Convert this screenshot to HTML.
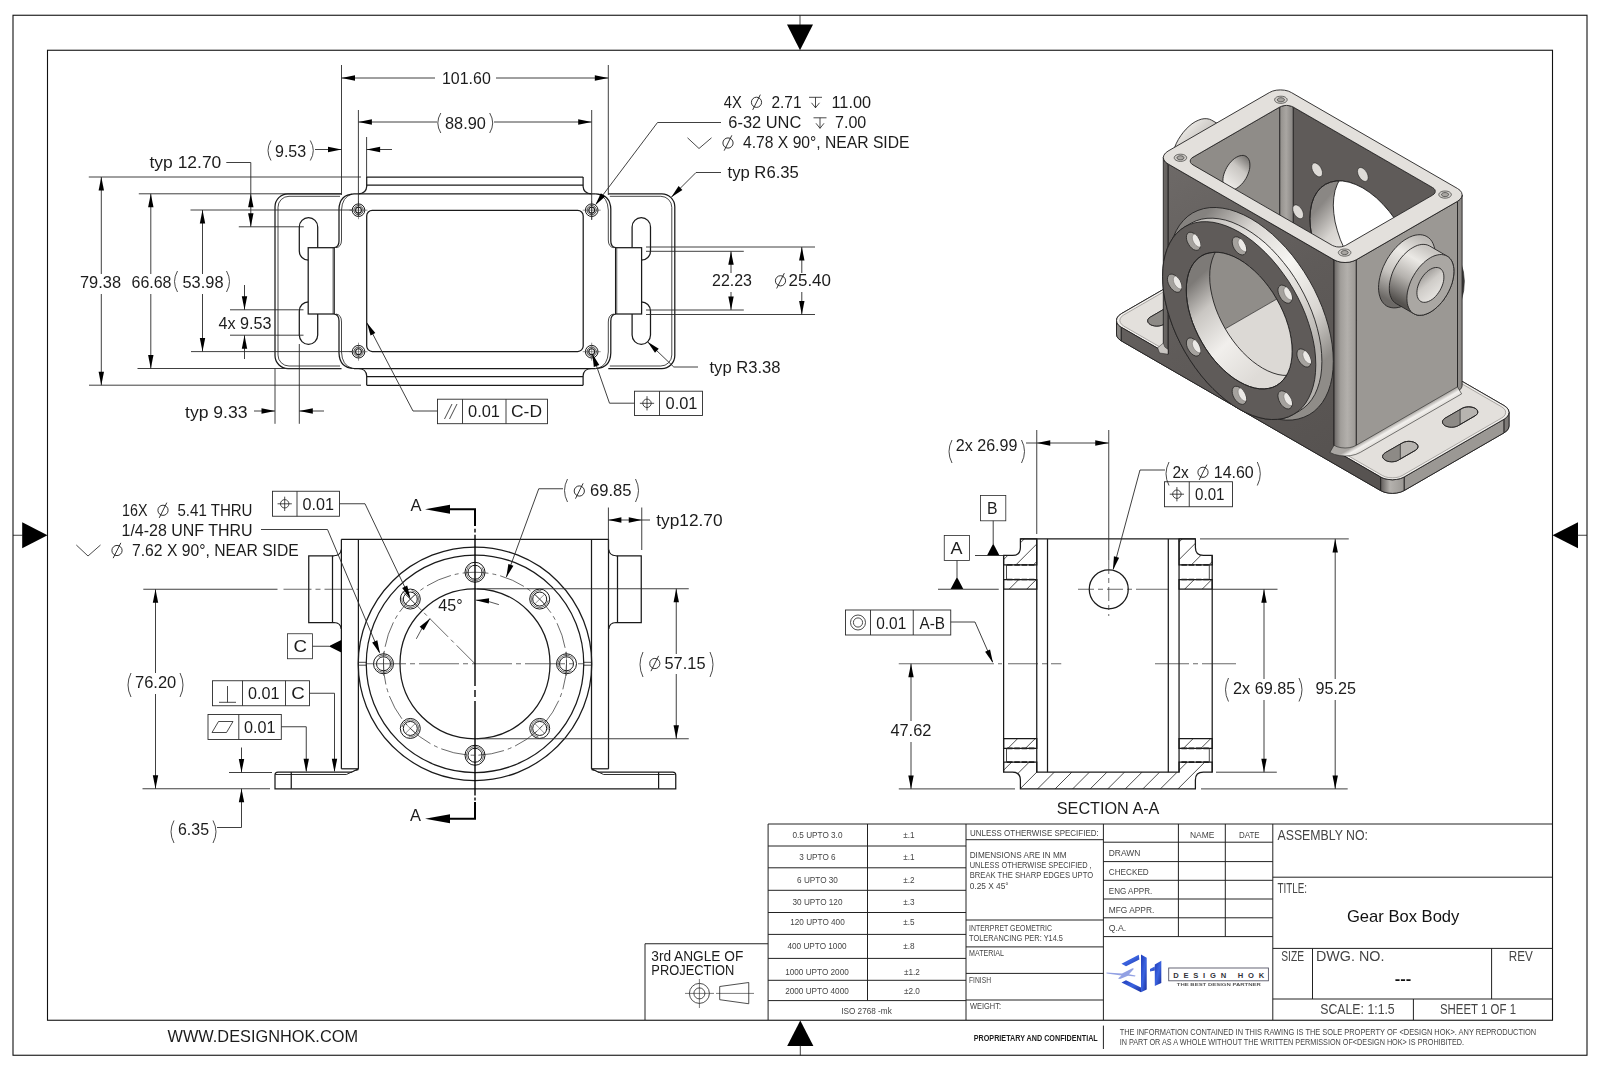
<!DOCTYPE html>
<html><head><meta charset="utf-8"><title>Gear Box Body</title>
<style>
html,body{margin:0;padding:0;background:#fff;}
body{width:1600px;height:1065px;overflow:hidden;font-family:"Liberation Sans",sans-serif;}
svg{display:block;}
</style></head><body>
<svg width="1600" height="1065" viewBox="0 0 1600 1065">
<rect x="0" y="0" width="1600" height="1065" fill="#fff"/>
<rect x="13.00" y="15.25" width="1574.00" height="1040.00" rx="0" fill="none" stroke="#111" stroke-width="1.1" />
<rect x="47.50" y="50.25" width="1505.00" height="970.00" rx="0" fill="none" stroke="#111" stroke-width="1.1" />
<polygon points="787,24.4 813,24.4 800,50.2" fill="#000"/>
<line x1="800.00" y1="15.25" x2="800.00" y2="25.00" stroke="#111" stroke-width="0.8" />
<polygon points="787.2,1046 813.4,1046 800.3,1020.5" fill="#000"/>
<line x1="800.30" y1="1045.00" x2="800.30" y2="1055.30" stroke="#111" stroke-width="0.8" />
<polygon points="22.2,522.3 22.2,548.2 47.5,535.25" fill="#000"/>
<line x1="13.00" y1="535.25" x2="23.00" y2="535.25" stroke="#111" stroke-width="0.8" />
<polygon points="1578,522.3 1578,548.2 1552.5,535.25" fill="#000"/>
<line x1="1577.00" y1="535.25" x2="1587.00" y2="535.25" stroke="#111" stroke-width="0.8" />
<line x1="1103.40" y1="1025.60" x2="1103.40" y2="1049.00" stroke="#222" stroke-width="1.0" />
<line x1="768.10" y1="824.00" x2="768.10" y2="1020.00" stroke="#222" stroke-width="1.0" />
<line x1="966.00" y1="824.00" x2="966.00" y2="1020.00" stroke="#222" stroke-width="1.0" />
<line x1="1103.40" y1="824.00" x2="1103.40" y2="1020.00" stroke="#222" stroke-width="1.0" />
<line x1="1272.80" y1="824.00" x2="1272.80" y2="1020.00" stroke="#222" stroke-width="1.0" />
<line x1="867.50" y1="824.00" x2="867.50" y2="1000.60" stroke="#222" stroke-width="1.0" />
<line x1="768.10" y1="824.00" x2="1552.50" y2="824.00" stroke="#222" stroke-width="1.0" />
<line x1="768.10" y1="846.00" x2="966.00" y2="846.00" stroke="#222" stroke-width="1.0" />
<line x1="768.10" y1="867.80" x2="966.00" y2="867.80" stroke="#222" stroke-width="1.0" />
<line x1="768.10" y1="890.30" x2="966.00" y2="890.30" stroke="#222" stroke-width="1.0" />
<line x1="768.10" y1="912.50" x2="966.00" y2="912.50" stroke="#222" stroke-width="1.0" />
<line x1="768.10" y1="934.40" x2="966.00" y2="934.40" stroke="#222" stroke-width="1.0" />
<line x1="768.10" y1="958.40" x2="966.00" y2="958.40" stroke="#222" stroke-width="1.0" />
<line x1="768.10" y1="980.30" x2="966.00" y2="980.30" stroke="#222" stroke-width="1.0" />
<line x1="768.10" y1="1000.60" x2="966.00" y2="1000.60" stroke="#222" stroke-width="1.0" />
<polyline points="645.00,1020.00 645.00,943.75 768.10,943.75" fill="none" stroke="#222" stroke-width="1.0" />
<circle cx="699.40" cy="993.40" r="10.00" fill="none" stroke="#222" stroke-width="0.8" />
<circle cx="699.40" cy="993.40" r="5.50" fill="none" stroke="#222" stroke-width="0.8" />
<line x1="685.00" y1="993.40" x2="714.00" y2="993.40" stroke="#222" stroke-width="0.6" />
<line x1="699.40" y1="979.00" x2="699.40" y2="1008.00" stroke="#222" stroke-width="0.6" />
<polygon points="719.70,986.50 748.75,982.50 748.75,1003.75 719.70,999.70" fill="none" stroke="#222" stroke-width="0.8" />
<line x1="716.00" y1="993.40" x2="754.00" y2="993.40" stroke="#222" stroke-width="0.6" />
<line x1="966.00" y1="839.70" x2="1103.40" y2="839.70" stroke="#222" stroke-width="1.0" />
<line x1="966.00" y1="920.00" x2="1103.40" y2="920.00" stroke="#222" stroke-width="1.0" />
<line x1="966.00" y1="946.90" x2="1103.40" y2="946.90" stroke="#222" stroke-width="1.0" />
<line x1="966.00" y1="973.40" x2="1103.40" y2="973.40" stroke="#222" stroke-width="1.0" />
<line x1="966.00" y1="1000.00" x2="1103.40" y2="1000.00" stroke="#222" stroke-width="1.0" />
<line x1="1103.40" y1="842.20" x2="1272.80" y2="842.20" stroke="#222" stroke-width="1.0" />
<line x1="1103.40" y1="861.60" x2="1272.80" y2="861.60" stroke="#222" stroke-width="1.0" />
<line x1="1103.40" y1="880.30" x2="1272.80" y2="880.30" stroke="#222" stroke-width="1.0" />
<line x1="1103.40" y1="899.00" x2="1272.80" y2="899.00" stroke="#222" stroke-width="1.0" />
<line x1="1103.40" y1="917.80" x2="1272.80" y2="917.80" stroke="#222" stroke-width="1.0" />
<line x1="1103.40" y1="936.60" x2="1272.80" y2="936.60" stroke="#222" stroke-width="1.0" />
<line x1="1178.40" y1="824.00" x2="1178.40" y2="936.60" stroke="#222" stroke-width="1.0" />
<line x1="1225.30" y1="824.00" x2="1225.30" y2="936.60" stroke="#222" stroke-width="1.0" />
<line x1="1272.80" y1="877.20" x2="1552.50" y2="877.20" stroke="#222" stroke-width="1.0" />
<line x1="1272.80" y1="948.40" x2="1552.50" y2="948.40" stroke="#222" stroke-width="1.0" />
<line x1="1272.80" y1="999.00" x2="1552.50" y2="999.00" stroke="#222" stroke-width="1.0" />
<line x1="1312.50" y1="948.40" x2="1312.50" y2="999.00" stroke="#222" stroke-width="1.0" />
<line x1="1491.60" y1="948.40" x2="1491.60" y2="999.00" stroke="#222" stroke-width="1.0" />
<line x1="1413.40" y1="999.00" x2="1413.40" y2="1020.00" stroke="#222" stroke-width="1.0" />
<defs><linearGradient id="lg" x1="0" y1="0" x2="1" y2="1"><stop offset="0" stop-color="#1f3bb8"/><stop offset="0.5" stop-color="#3a63e0"/><stop offset="1" stop-color="#1a2f9c"/></linearGradient></defs>
<g fill="url(#lg)">
<polygon points="1121.5,963.8 1138.8,954.8 1139.4,959.6 1126,966.2"/>
<polygon points="1141,954.6 1146.7,957.8 1146.7,989.5 1141,992.3"/>
<polygon points="1121.5,982.6 1126,980.3 1141,987.6 1141,992.3"/>
<polygon points="1154.8,964.5 1161.3,960.8 1161.3,983 1154.8,986"/>
<polygon points="1150,969 1154.8,966.5 1154.8,970.5 1150,971.5"/>
</g>
<path d="M1106.5,972.6 L1122,973.6 L1132.5,968.2 L1134,968.8 L1129,974.2 L1135.5,975.6 L1135,976.6 L1128,975.8 L1120,979 L1118,978.4 L1121.5,975.4 L1106.5,973.4 Z" fill="#4a63d0" opacity="0.6"/>
<rect x="1168.70" y="968.00" width="99.70" height="12.80" rx="0" fill="none" stroke="#556" stroke-width="0.9" />
<text x="1173.2" y="977.5" font-family="Liberation Sans, sans-serif" font-size="7.6" font-weight="bold" fill="#33333b" textLength="91" lengthAdjust="spacing">DESIGN HOK</text>
<path d="M341.5,193.8 L288.0,193.8 A13,13 0 0 0 275.0,206.8 L275.0,355.5 A13,13 0 0 0 288.0,368.5 L341.5,368.5" fill="none" stroke="#1a1a1a" stroke-width="1.25" />
<path d="M340.0,196.3 L289.0,196.3 A11,11 0 0 0 278.0,207.3 L278.0,355 A11,11 0 0 0 289.0,366 L340.0,366" fill="none" stroke="#1a1a1a" stroke-width="0.8" />
<rect x="299.30" y="217.70" width="18.40" height="42.50" rx="9.2" fill="none" stroke="#1a1a1a" stroke-width="1.25" />
<rect x="299.30" y="301.80" width="18.40" height="42.50" rx="9.2" fill="none" stroke="#1a1a1a" stroke-width="1.25" />
<rect x="308.20" y="247.70" width="26.00" height="66.30" rx="0" fill="#fff" stroke="#1a1a1a" stroke-width="1.25" />
<line x1="333.00" y1="247.70" x2="333.00" y2="314.00" stroke="#1a1a1a" stroke-width="0.6" />
<path d="M334.2,247.7 Q339.0,247 339.0,241 L339.0,209 Q339.5,194.5 354.0,193.8" fill="none" stroke="#1a1a1a" stroke-width="1.25" />
<path d="M336.0,247.7 Q341.5,247 341.5,240 L341.5,210 Q342.0,197 352.0,194" fill="none" stroke="#1a1a1a" stroke-width="0.8" />
<path d="M334.2,314 Q339.0,314.7 339.0,321 L339.0,353 Q339.5,368 354.0,368.5" fill="none" stroke="#1a1a1a" stroke-width="1.25" />
<path d="M336.0,314 Q341.5,314.7 341.5,322 L341.5,352 Q342.0,365.5 352.0,368.3" fill="none" stroke="#1a1a1a" stroke-width="0.8" />
<path d="M366.7,177 L366.7,186.5 Q366.3,193.5 358.5,193.8" fill="none" stroke="#1a1a1a" stroke-width="1.25" />
<path d="M366.7,385.3 L366.7,376 Q366.3,368.8 358.5,368.5" fill="none" stroke="#1a1a1a" stroke-width="1.25" />
<path d="M608.3,193.8 L661.8,193.8 A13,13 0 0 1 674.8,206.8 L674.8,355.5 A13,13 0 0 1 661.8,368.5 L608.3,368.5" fill="none" stroke="#1a1a1a" stroke-width="1.25" />
<path d="M609.8,196.3 L660.8,196.3 A11,11 0 0 1 671.8,207.3 L671.8,355 A11,11 0 0 1 660.8,366 L609.8,366" fill="none" stroke="#1a1a1a" stroke-width="0.8" />
<rect x="632.10" y="217.70" width="18.40" height="42.50" rx="9.2" fill="none" stroke="#1a1a1a" stroke-width="1.25" />
<rect x="632.10" y="301.80" width="18.40" height="42.50" rx="9.2" fill="none" stroke="#1a1a1a" stroke-width="1.25" />
<rect x="615.60" y="247.70" width="26.00" height="66.30" rx="0" fill="#fff" stroke="#1a1a1a" stroke-width="1.25" />
<line x1="616.80" y1="247.70" x2="616.80" y2="314.00" stroke="#1a1a1a" stroke-width="0.6" />
<path d="M615.5999999999999,247.7 Q610.8,247 610.8,241 L610.8,209 Q610.3,194.5 595.8,193.8" fill="none" stroke="#1a1a1a" stroke-width="1.25" />
<path d="M613.8,247.7 Q608.3,247 608.3,240 L608.3,210 Q607.8,197 597.8,194" fill="none" stroke="#1a1a1a" stroke-width="0.8" />
<path d="M615.5999999999999,314 Q610.8,314.7 610.8,321 L610.8,353 Q610.3,368 595.8,368.5" fill="none" stroke="#1a1a1a" stroke-width="1.25" />
<path d="M613.8,314 Q608.3,314.7 608.3,322 L608.3,352 Q607.8,365.5 597.8,368.3" fill="none" stroke="#1a1a1a" stroke-width="0.8" />
<path d="M583.0999999999999,177 L583.0999999999999,186.5 Q583.5,193.5 591.3,193.8" fill="none" stroke="#1a1a1a" stroke-width="1.25" />
<path d="M583.0999999999999,385.3 L583.0999999999999,376 Q583.5,368.8 591.3,368.5" fill="none" stroke="#1a1a1a" stroke-width="1.25" />
<line x1="354.00" y1="193.80" x2="595.80" y2="193.80" stroke="#1a1a1a" stroke-width="1.25" />
<line x1="354.00" y1="368.50" x2="595.80" y2="368.50" stroke="#1a1a1a" stroke-width="1.25" />
<line x1="366.70" y1="177.00" x2="583.10" y2="177.00" stroke="#1a1a1a" stroke-width="1.25" />
<line x1="366.70" y1="185.20" x2="583.10" y2="185.20" stroke="#1a1a1a" stroke-width="1.25" />
<line x1="366.70" y1="376.70" x2="583.10" y2="376.70" stroke="#1a1a1a" stroke-width="1.25" />
<line x1="366.70" y1="385.30" x2="583.10" y2="385.30" stroke="#1a1a1a" stroke-width="1.25" />
<rect x="366.70" y="210.40" width="216.50" height="141.10" rx="5.5" fill="none" stroke="#1a1a1a" stroke-width="1.25" />
<circle cx="358.50" cy="210.20" r="6.30" fill="none" stroke="#1a1a1a" stroke-width="1.0" />
<circle cx="358.50" cy="210.20" r="4.60" fill="none" stroke="#1a1a1a" stroke-width="0.8" />
<circle cx="358.50" cy="210.20" r="2.90" fill="none" stroke="#1a1a1a" stroke-width="1.1" />
<line x1="349.50" y1="210.20" x2="367.50" y2="210.20" stroke="#2a2a2a" stroke-width="0.5" />
<line x1="358.50" y1="201.20" x2="358.50" y2="219.20" stroke="#2a2a2a" stroke-width="0.5" />
<circle cx="591.70" cy="210.20" r="6.30" fill="none" stroke="#1a1a1a" stroke-width="1.0" />
<circle cx="591.70" cy="210.20" r="4.60" fill="none" stroke="#1a1a1a" stroke-width="0.8" />
<circle cx="591.70" cy="210.20" r="2.90" fill="none" stroke="#1a1a1a" stroke-width="1.1" />
<line x1="582.70" y1="210.20" x2="600.70" y2="210.20" stroke="#2a2a2a" stroke-width="0.5" />
<line x1="591.70" y1="201.20" x2="591.70" y2="219.20" stroke="#2a2a2a" stroke-width="0.5" />
<circle cx="358.50" cy="351.70" r="6.30" fill="none" stroke="#1a1a1a" stroke-width="1.0" />
<circle cx="358.50" cy="351.70" r="4.60" fill="none" stroke="#1a1a1a" stroke-width="0.8" />
<circle cx="358.50" cy="351.70" r="2.90" fill="none" stroke="#1a1a1a" stroke-width="1.1" />
<line x1="349.50" y1="351.70" x2="367.50" y2="351.70" stroke="#2a2a2a" stroke-width="0.5" />
<line x1="358.50" y1="342.70" x2="358.50" y2="360.70" stroke="#2a2a2a" stroke-width="0.5" />
<circle cx="591.70" cy="351.70" r="6.30" fill="none" stroke="#1a1a1a" stroke-width="1.0" />
<circle cx="591.70" cy="351.70" r="4.60" fill="none" stroke="#1a1a1a" stroke-width="0.8" />
<circle cx="591.70" cy="351.70" r="2.90" fill="none" stroke="#1a1a1a" stroke-width="1.1" />
<line x1="582.70" y1="351.70" x2="600.70" y2="351.70" stroke="#2a2a2a" stroke-width="0.5" />
<line x1="591.70" y1="342.70" x2="591.70" y2="360.70" stroke="#2a2a2a" stroke-width="0.5" />
<line x1="341.50" y1="65.00" x2="341.50" y2="195.00" stroke="#2a2a2a" stroke-width="0.9" />
<line x1="608.30" y1="65.00" x2="608.30" y2="195.00" stroke="#2a2a2a" stroke-width="0.9" />
<line x1="341.50" y1="78.00" x2="435.00" y2="78.00" stroke="#2a2a2a" stroke-width="0.9" />
<line x1="496.00" y1="78.00" x2="608.30" y2="78.00" stroke="#2a2a2a" stroke-width="0.9" />
<polygon points="341.50,78.00 355.00,75.30 355.00,80.70" fill="#000"/>
<polygon points="608.30,78.00 594.80,80.70 594.80,75.30" fill="#000"/>
<line x1="358.40" y1="110.00" x2="358.40" y2="216.00" stroke="#2a2a2a" stroke-width="0.9" />
<line x1="591.70" y1="110.00" x2="591.70" y2="220.00" stroke="#2a2a2a" stroke-width="0.9" />
<line x1="358.40" y1="122.00" x2="437.00" y2="122.00" stroke="#2a2a2a" stroke-width="0.9" />
<line x1="494.00" y1="122.00" x2="591.70" y2="122.00" stroke="#2a2a2a" stroke-width="0.9" />
<polygon points="358.40,122.00 371.90,119.30 371.90,124.70" fill="#000"/>
<polygon points="591.70,122.00 578.20,124.70 578.20,119.30" fill="#000"/>
<path d="M440.80,113.00 Q434.80,123.00 440.80,133.00" fill="none" stroke="#1c1c1c" stroke-width="0.8" />
<path d="M489.70,113.00 Q495.70,123.00 489.70,133.00" fill="none" stroke="#1c1c1c" stroke-width="0.8" />
<line x1="366.60" y1="137.00" x2="366.60" y2="177.00" stroke="#2a2a2a" stroke-width="0.9" />
<line x1="315.00" y1="149.50" x2="341.50" y2="149.50" stroke="#2a2a2a" stroke-width="0.9" />
<polygon points="341.50,149.50 328.00,152.20 328.00,146.80" fill="#000"/>
<line x1="366.60" y1="149.50" x2="392.00" y2="149.50" stroke="#2a2a2a" stroke-width="0.9" />
<polygon points="366.60,149.50 380.10,146.80 380.10,152.20" fill="#000"/>
<path d="M271.00,140.50 Q265.00,150.50 271.00,160.50" fill="none" stroke="#1c1c1c" stroke-width="0.8" />
<path d="M310.30,140.50 Q316.30,150.50 310.30,160.50" fill="none" stroke="#1c1c1c" stroke-width="0.8" />
<line x1="88.80" y1="177.00" x2="361.00" y2="177.00" stroke="#2a2a2a" stroke-width="0.9" />
<line x1="138.80" y1="193.80" x2="341.00" y2="193.80" stroke="#2a2a2a" stroke-width="0.9" />
<line x1="190.50" y1="210.00" x2="352.00" y2="210.00" stroke="#2a2a2a" stroke-width="0.9" />
<line x1="238.80" y1="226.80" x2="303.80" y2="226.80" stroke="#2a2a2a" stroke-width="0.9" />
<line x1="89.00" y1="385.20" x2="361.00" y2="385.20" stroke="#2a2a2a" stroke-width="0.9" />
<line x1="137.50" y1="368.50" x2="341.00" y2="368.50" stroke="#2a2a2a" stroke-width="0.9" />
<line x1="191.00" y1="351.60" x2="352.00" y2="351.60" stroke="#2a2a2a" stroke-width="0.9" />
<line x1="101.30" y1="177.00" x2="101.30" y2="274.00" stroke="#2a2a2a" stroke-width="0.9" />
<line x1="101.30" y1="294.00" x2="101.30" y2="385.20" stroke="#2a2a2a" stroke-width="0.9" />
<polygon points="101.30,177.00 104.00,190.50 98.60,190.50" fill="#000"/>
<polygon points="101.30,385.20 98.60,371.70 104.00,371.70" fill="#000"/>
<line x1="150.80" y1="193.80" x2="150.80" y2="274.00" stroke="#2a2a2a" stroke-width="0.9" />
<line x1="150.80" y1="294.00" x2="150.80" y2="368.50" stroke="#2a2a2a" stroke-width="0.9" />
<polygon points="150.80,193.80 153.50,207.30 148.10,207.30" fill="#000"/>
<polygon points="150.80,368.50 148.10,355.00 153.50,355.00" fill="#000"/>
<line x1="202.50" y1="210.00" x2="202.50" y2="274.00" stroke="#2a2a2a" stroke-width="0.9" />
<line x1="202.50" y1="294.00" x2="202.50" y2="351.60" stroke="#2a2a2a" stroke-width="0.9" />
<polygon points="202.50,210.00 205.20,223.50 199.80,223.50" fill="#000"/>
<polygon points="202.50,351.60 199.80,338.10 205.20,338.10" fill="#000"/>
<path d="M177.50,271.00 Q171.50,281.50 177.50,292.00" fill="none" stroke="#1c1c1c" stroke-width="0.8" />
<path d="M226.50,271.00 Q232.50,281.50 226.50,292.00" fill="none" stroke="#1c1c1c" stroke-width="0.8" />
<polyline points="226.30,162.50 250.80,162.50 250.80,226.80" fill="none" stroke="#2a2a2a" stroke-width="0.9" />
<polygon points="250.80,193.80 253.50,207.30 248.10,207.30" fill="#000"/>
<polygon points="250.80,226.80 248.10,213.30 253.50,213.30" fill="#000"/>
<line x1="230.00" y1="309.80" x2="303.50" y2="309.80" stroke="#2a2a2a" stroke-width="0.9" />
<line x1="230.00" y1="335.20" x2="303.50" y2="335.20" stroke="#2a2a2a" stroke-width="0.9" />
<line x1="244.50" y1="285.00" x2="244.50" y2="309.80" stroke="#2a2a2a" stroke-width="0.9" />
<polygon points="244.50,309.80 241.80,296.30 247.20,296.30" fill="#000"/>
<line x1="244.50" y1="335.20" x2="244.50" y2="359.00" stroke="#2a2a2a" stroke-width="0.9" />
<polygon points="244.50,335.20 247.20,348.70 241.80,348.70" fill="#000"/>
<line x1="275.00" y1="368.50" x2="275.00" y2="423.80" stroke="#2a2a2a" stroke-width="0.9" />
<line x1="299.30" y1="344.00" x2="299.30" y2="423.80" stroke="#2a2a2a" stroke-width="0.9" />
<line x1="254.00" y1="411.00" x2="275.00" y2="411.00" stroke="#2a2a2a" stroke-width="0.9" />
<polygon points="275.00,411.00 261.50,413.70 261.50,408.30" fill="#000"/>
<line x1="299.30" y1="411.00" x2="324.00" y2="411.00" stroke="#2a2a2a" stroke-width="0.9" />
<polygon points="299.30,411.00 312.80,408.30 312.80,413.70" fill="#000"/>
<line x1="646.00" y1="251.30" x2="743.80" y2="251.30" stroke="#2a2a2a" stroke-width="0.9" />
<line x1="646.00" y1="310.00" x2="743.80" y2="310.00" stroke="#2a2a2a" stroke-width="0.9" />
<line x1="731.00" y1="251.30" x2="731.00" y2="273.00" stroke="#2a2a2a" stroke-width="0.9" />
<line x1="731.00" y1="292.00" x2="731.00" y2="310.00" stroke="#2a2a2a" stroke-width="0.9" />
<polygon points="731.00,251.30 733.70,264.80 728.30,264.80" fill="#000"/>
<polygon points="731.00,310.00 728.30,296.50 733.70,296.50" fill="#000"/>
<line x1="646.00" y1="247.00" x2="815.00" y2="247.00" stroke="#2a2a2a" stroke-width="0.9" />
<line x1="646.00" y1="314.50" x2="815.00" y2="314.50" stroke="#2a2a2a" stroke-width="0.9" />
<line x1="801.80" y1="247.00" x2="801.80" y2="273.00" stroke="#2a2a2a" stroke-width="0.9" />
<line x1="801.80" y1="292.00" x2="801.80" y2="314.50" stroke="#2a2a2a" stroke-width="0.9" />
<polygon points="801.80,247.00 804.50,260.50 799.10,260.50" fill="#000"/>
<polygon points="801.80,314.50 799.10,301.00 804.50,301.00" fill="#000"/>
<circle cx="780.50" cy="280.80" r="5.10" fill="none" stroke="#1c1c1c" stroke-width="0.9" />
<line x1="776.67" y1="288.45" x2="784.33" y2="273.15" stroke="#1c1c1c" stroke-width="0.9" />
<circle cx="756.50" cy="102.30" r="5.10" fill="none" stroke="#1c1c1c" stroke-width="0.9" />
<line x1="752.67" y1="109.95" x2="760.33" y2="94.65" stroke="#1c1c1c" stroke-width="0.9" />
<line x1="809.00" y1="97.30" x2="822.00" y2="97.30" stroke="#1c1c1c" stroke-width="0.8" />
<line x1="815.50" y1="97.30" x2="815.50" y2="107.80" stroke="#1c1c1c" stroke-width="0.8" />
<polyline points="811.50,102.80 815.50,107.80 819.50,102.80" fill="none" stroke="#1c1c1c" stroke-width="0.8" />
<line x1="813.50" y1="117.80" x2="826.50" y2="117.80" stroke="#1c1c1c" stroke-width="0.8" />
<line x1="820.00" y1="117.80" x2="820.00" y2="128.30" stroke="#1c1c1c" stroke-width="0.8" />
<polyline points="816.00,123.30 820.00,128.30 824.00,123.30" fill="none" stroke="#1c1c1c" stroke-width="0.8" />
<polyline points="687.50,137.80 699.00,148.50 711.50,137.80" fill="none" stroke="#1c1c1c" stroke-width="0.8" />
<circle cx="728.00" cy="143.00" r="5.10" fill="none" stroke="#1c1c1c" stroke-width="0.9" />
<line x1="724.17" y1="150.65" x2="731.83" y2="135.35" stroke="#1c1c1c" stroke-width="0.9" />
<polyline points="721.00,122.50 657.50,122.50 596.50,203.50" fill="none" stroke="#2a2a2a" stroke-width="0.9" />
<polygon points="595.20,205.20 600.87,193.19 605.18,196.44" fill="#000"/>
<polyline points="721.00,172.50 696.00,172.50 671.50,197.00" fill="none" stroke="#2a2a2a" stroke-width="0.9" />
<polygon points="671.30,197.20 678.58,186.10 682.40,189.92" fill="#000"/>
<polyline points="698.00,367.00 673.80,367.00 647.50,341.80" fill="none" stroke="#2a2a2a" stroke-width="0.9" />
<polygon points="647.50,341.80 658.75,348.84 655.02,352.74" fill="#000"/>
<rect x="437.50" y="399.20" width="110.00" height="24.50" rx="0" fill="none" stroke="#2a2a2a" stroke-width="0.9" />
<line x1="462.50" y1="399.20" x2="462.50" y2="423.70" stroke="#2a2a2a" stroke-width="0.9" />
<line x1="506.00" y1="399.20" x2="506.00" y2="423.70" stroke="#2a2a2a" stroke-width="0.9" />
<line x1="444.50" y1="419.00" x2="452.00" y2="404.00" stroke="#1c1c1c" stroke-width="0.8" />
<line x1="449.50" y1="419.00" x2="457.00" y2="404.00" stroke="#1c1c1c" stroke-width="0.8" />
<polyline points="437.50,411.00 413.00,411.00 366.90,322.80" fill="none" stroke="#2a2a2a" stroke-width="0.9" />
<polygon points="366.90,322.80 375.31,333.07 370.53,335.57" fill="#000"/>
<rect x="634.50" y="391.20" width="68.00" height="24.30" rx="0" fill="none" stroke="#2a2a2a" stroke-width="0.9" />
<line x1="659.50" y1="391.20" x2="659.50" y2="415.50" stroke="#2a2a2a" stroke-width="0.9" />
<circle cx="647.00" cy="403.30" r="4.20" fill="none" stroke="#1c1c1c" stroke-width="0.8" />
<line x1="639.86" y1="403.30" x2="654.14" y2="403.30" stroke="#1c1c1c" stroke-width="0.8" />
<line x1="647.00" y1="396.16" x2="647.00" y2="410.44" stroke="#1c1c1c" stroke-width="0.8" />
<polyline points="634.50,403.20 609.50,403.20 592.50,354.50" fill="none" stroke="#2a2a2a" stroke-width="0.9" />
<polygon points="592.30,353.80 599.31,365.12 593.84,367.03" fill="#000"/>
<line x1="341.25" y1="539.40" x2="608.60" y2="539.40" stroke="#1a1a1a" stroke-width="1.25" />
<line x1="341.40" y1="539.40" x2="341.40" y2="768.80" stroke="#1a1a1a" stroke-width="1.25" />
<line x1="608.50" y1="539.40" x2="608.50" y2="768.80" stroke="#1a1a1a" stroke-width="1.25" />
<line x1="358.40" y1="539.40" x2="358.40" y2="768.80" stroke="#1a1a1a" stroke-width="1.25" />
<line x1="591.50" y1="539.40" x2="591.50" y2="768.80" stroke="#1a1a1a" stroke-width="1.25" />
<path d="M352,772.1 L278,772.1 Q275,772.1 275,775.1 L275,788.75 L675.75,788.75 L675.75,775.1 Q675.75,772.1 672.75,772.1 L598,772.1" fill="none" stroke="#1a1a1a" stroke-width="1.25" />
<line x1="275.30" y1="774.50" x2="346.40" y2="774.50" stroke="#1a1a1a" stroke-width="0.9" />
<line x1="603.60" y1="774.50" x2="674.70" y2="774.50" stroke="#1a1a1a" stroke-width="0.9" />
<line x1="291.25" y1="772.10" x2="291.25" y2="788.75" stroke="#1a1a1a" stroke-width="1.25" />
<line x1="658.60" y1="772.10" x2="658.60" y2="788.75" stroke="#1a1a1a" stroke-width="1.25" />
<line x1="341.40" y1="768.80" x2="358.40" y2="768.80" stroke="#1a1a1a" stroke-width="1.25" />
<line x1="358.40" y1="768.80" x2="346.40" y2="774.50" stroke="#1a1a1a" stroke-width="0.9" />
<line x1="352.00" y1="772.10" x2="358.40" y2="768.80" stroke="#1a1a1a" stroke-width="0.9" />
<polygon points="358.4,768.8 358.4,770.3 354.5,771 " fill="#111"/>
<line x1="608.60" y1="768.80" x2="591.60" y2="768.80" stroke="#1a1a1a" stroke-width="1.25" />
<line x1="591.60" y1="768.80" x2="603.60" y2="774.50" stroke="#1a1a1a" stroke-width="0.9" />
<line x1="598.00" y1="772.10" x2="591.60" y2="768.80" stroke="#1a1a1a" stroke-width="0.9" />
<polygon points="591.6,768.8 591.6,770.3 595.5,771 " fill="#111"/>
<path d="M341.25,549.5 Q340.8,555.5 334.0,555.75 L308.75,555.75 L308.75,622.5 L334.0,622.5 Q340.8,622.8 341.25,629" fill="none" stroke="#1a1a1a" stroke-width="1.25" />
<line x1="332.50" y1="555.75" x2="332.50" y2="622.50" stroke="#1a1a1a" stroke-width="1.25" />
<path d="M608.75,549.5 Q609.2,555.5 616.0,555.75 L641.25,555.75 L641.25,622.5 L616.0,622.5 Q609.2,622.8 608.75,629" fill="none" stroke="#1a1a1a" stroke-width="1.25" />
<line x1="617.50" y1="555.75" x2="617.50" y2="622.50" stroke="#1a1a1a" stroke-width="1.25" />
<circle cx="475.00" cy="663.75" r="116.75" fill="none" stroke="#1a1a1a" stroke-width="1.25" />
<circle cx="475.00" cy="663.75" r="108.75" fill="none" stroke="#1a1a1a" stroke-width="1.25" />
<circle cx="475.00" cy="663.75" r="75.00" fill="none" stroke="#1a1a1a" stroke-width="1.25" />
<circle cx="475.00" cy="663.75" r="91.50" fill="none" stroke="#2a2a2a" stroke-width="0.7" stroke-dasharray="26 4 4 4"/>
<circle cx="566.50" cy="663.75" r="10.00" fill="none" stroke="#1a1a1a" stroke-width="1.0" />
<circle cx="566.50" cy="663.75" r="7.00" fill="none" stroke="#1a1a1a" stroke-width="1.0" />
<path d="M571.38,670.71 A8.5,8.5 0 1 1 573.46,658.87" fill="none" stroke="#1a1a1a" stroke-width="0.6" />
<circle cx="539.70" cy="728.45" r="10.00" fill="none" stroke="#1a1a1a" stroke-width="1.0" />
<circle cx="539.70" cy="728.45" r="7.00" fill="none" stroke="#1a1a1a" stroke-width="1.0" />
<path d="M538.22,736.82 A8.5,8.5 0 1 1 548.07,729.93" fill="none" stroke="#1a1a1a" stroke-width="0.6" />
<circle cx="475.00" cy="755.25" r="10.00" fill="none" stroke="#1a1a1a" stroke-width="1.0" />
<circle cx="475.00" cy="755.25" r="7.00" fill="none" stroke="#1a1a1a" stroke-width="1.0" />
<path d="M468.04,760.13 A8.5,8.5 0 1 1 479.88,762.21" fill="none" stroke="#1a1a1a" stroke-width="0.6" />
<circle cx="410.30" cy="728.45" r="10.00" fill="none" stroke="#1a1a1a" stroke-width="1.0" />
<circle cx="410.30" cy="728.45" r="7.00" fill="none" stroke="#1a1a1a" stroke-width="1.0" />
<path d="M401.93,726.97 A8.5,8.5 0 1 1 408.82,736.82" fill="none" stroke="#1a1a1a" stroke-width="0.6" />
<circle cx="383.50" cy="663.75" r="10.00" fill="none" stroke="#1a1a1a" stroke-width="1.0" />
<circle cx="383.50" cy="663.75" r="7.00" fill="none" stroke="#1a1a1a" stroke-width="1.0" />
<path d="M378.62,656.79 A8.5,8.5 0 1 1 376.54,668.63" fill="none" stroke="#1a1a1a" stroke-width="0.6" />
<circle cx="410.30" cy="599.05" r="10.00" fill="none" stroke="#1a1a1a" stroke-width="1.0" />
<circle cx="410.30" cy="599.05" r="7.00" fill="none" stroke="#1a1a1a" stroke-width="1.0" />
<path d="M411.78,590.68 A8.5,8.5 0 1 1 401.93,597.57" fill="none" stroke="#1a1a1a" stroke-width="0.6" />
<circle cx="475.00" cy="572.25" r="10.00" fill="none" stroke="#1a1a1a" stroke-width="1.0" />
<circle cx="475.00" cy="572.25" r="7.00" fill="none" stroke="#1a1a1a" stroke-width="1.0" />
<path d="M481.96,567.37 A8.5,8.5 0 1 1 470.12,565.29" fill="none" stroke="#1a1a1a" stroke-width="0.6" />
<circle cx="539.70" cy="599.05" r="10.00" fill="none" stroke="#1a1a1a" stroke-width="1.0" />
<circle cx="539.70" cy="599.05" r="7.00" fill="none" stroke="#1a1a1a" stroke-width="1.0" />
<path d="M548.07,600.53 A8.5,8.5 0 1 1 541.18,590.68" fill="none" stroke="#1a1a1a" stroke-width="0.6" />
<line x1="359.00" y1="662.30" x2="366.50" y2="662.30" stroke="#1a1a1a" stroke-width="0.8" />
<line x1="359.00" y1="665.20" x2="366.50" y2="665.20" stroke="#1a1a1a" stroke-width="0.8" />
<line x1="583.50" y1="662.30" x2="591.00" y2="662.30" stroke="#1a1a1a" stroke-width="0.8" />
<line x1="583.50" y1="665.20" x2="591.00" y2="665.20" stroke="#1a1a1a" stroke-width="0.8" />
<line x1="366.00" y1="663.75" x2="584.00" y2="663.75" stroke="#2a2a2a" stroke-width="0.7" stroke-dasharray="40 4 5 4"/>
<line x1="475.00" y1="663.75" x2="400.00" y2="588.75" stroke="#2a2a2a" stroke-width="0.7" stroke-dasharray="26 4 4 4"/>
<line x1="534.75" y1="723.50" x2="544.65" y2="733.40" stroke="#2a2a2a" stroke-width="0.5" />
<line x1="544.65" y1="723.50" x2="534.75" y2="733.40" stroke="#2a2a2a" stroke-width="0.5" />
<line x1="415.25" y1="723.50" x2="405.35" y2="733.40" stroke="#2a2a2a" stroke-width="0.5" />
<line x1="415.25" y1="733.40" x2="405.35" y2="723.50" stroke="#2a2a2a" stroke-width="0.5" />
<line x1="415.25" y1="604.00" x2="405.35" y2="594.10" stroke="#2a2a2a" stroke-width="0.5" />
<line x1="405.35" y1="604.00" x2="415.25" y2="594.10" stroke="#2a2a2a" stroke-width="0.5" />
<line x1="534.75" y1="604.00" x2="544.65" y2="594.10" stroke="#2a2a2a" stroke-width="0.5" />
<line x1="534.75" y1="594.10" x2="544.65" y2="604.00" stroke="#2a2a2a" stroke-width="0.5" />
<line x1="566.50" y1="651.75" x2="566.50" y2="675.75" stroke="#2a2a2a" stroke-width="0.5" />
<line x1="383.50" y1="651.75" x2="383.50" y2="675.75" stroke="#2a2a2a" stroke-width="0.5" />
<path d="M450,509.25 L475,509.25 L475,526" fill="none" stroke="#000" stroke-width="2.0" />
<path d="M450,818.75 L475,818.75 L475,802" fill="none" stroke="#000" stroke-width="2.0" />
<line x1="475.00" y1="528.80" x2="475.00" y2="532.50" stroke="#000" stroke-width="1.4" />
<line x1="475.00" y1="534.70" x2="475.00" y2="686.00" stroke="#000" stroke-width="1.4" />
<line x1="475.00" y1="690.00" x2="475.00" y2="697.00" stroke="#000" stroke-width="1.4" />
<line x1="475.00" y1="701.00" x2="475.00" y2="795.50" stroke="#000" stroke-width="1.4" />
<line x1="475.00" y1="797.50" x2="475.00" y2="800.50" stroke="#000" stroke-width="1.4" />
<polygon points="425.00,509.25 450.00,504.65 450.00,513.85" fill="#000"/>
<polygon points="425.00,818.75 450.00,814.15 450.00,823.35" fill="#000"/>
<path d="M476.2,600.0 A63.75,63.75 0 0 1 498.88,604.64" fill="none" stroke="#2a2a2a" stroke-width="0.8" />
<polygon points="475.50,600.20 489.12,598.21 488.84,603.60" fill="#000"/>
<path d="M429.92,618.67 A63.75,63.75 0 0 0 416.32,638.84" fill="none" stroke="#2a2a2a" stroke-width="0.8" />
<polygon points="430.42,618.17 423.81,630.25 419.68,626.78" fill="#000"/>
<path d="M567.50,479.00 Q561.50,490.50 567.50,502.00" fill="none" stroke="#1c1c1c" stroke-width="0.8" />
<path d="M635.50,479.00 Q641.50,490.50 635.50,502.00" fill="none" stroke="#1c1c1c" stroke-width="0.8" />
<circle cx="579.30" cy="491.00" r="5.10" fill="none" stroke="#1c1c1c" stroke-width="0.9" />
<line x1="575.47" y1="498.65" x2="583.12" y2="483.35" stroke="#1c1c1c" stroke-width="0.9" />
<polyline points="563.00,488.75 538.75,488.75 506.40,577.00" fill="none" stroke="#2a2a2a" stroke-width="0.9" />
<polygon points="506.25,577.50 508.36,563.89 513.43,565.75" fill="#000"/>
<line x1="608.40" y1="507.50" x2="608.40" y2="550.00" stroke="#2a2a2a" stroke-width="0.9" />
<line x1="641.75" y1="507.50" x2="641.75" y2="550.00" stroke="#2a2a2a" stroke-width="0.9" />
<line x1="608.40" y1="520.00" x2="650.00" y2="520.00" stroke="#2a2a2a" stroke-width="0.9" />
<polygon points="608.40,520.00 621.40,517.30 621.40,522.70" fill="#000"/>
<polygon points="641.75,520.00 628.75,522.70 628.75,517.30" fill="#000"/>
<line x1="477.00" y1="588.75" x2="688.75" y2="588.75" stroke="#2a2a2a" stroke-width="0.9" />
<line x1="477.00" y1="738.75" x2="688.75" y2="738.75" stroke="#2a2a2a" stroke-width="0.9" />
<line x1="676.25" y1="588.75" x2="676.25" y2="654.00" stroke="#2a2a2a" stroke-width="0.9" />
<line x1="676.25" y1="674.00" x2="676.25" y2="738.75" stroke="#2a2a2a" stroke-width="0.9" />
<polygon points="676.25,588.75 678.95,602.25 673.55,602.25" fill="#000"/>
<polygon points="676.25,738.75 673.55,725.25 678.95,725.25" fill="#000"/>
<path d="M643.00,652.00 Q637.00,664.50 643.00,677.00" fill="none" stroke="#1c1c1c" stroke-width="0.8" />
<path d="M710.00,652.00 Q716.00,664.50 710.00,677.00" fill="none" stroke="#1c1c1c" stroke-width="0.8" />
<circle cx="654.80" cy="663.50" r="5.10" fill="none" stroke="#1c1c1c" stroke-width="0.9" />
<line x1="650.97" y1="671.15" x2="658.62" y2="655.85" stroke="#1c1c1c" stroke-width="0.9" />
<line x1="143.30" y1="589.25" x2="277.50" y2="589.25" stroke="#2a2a2a" stroke-width="0.9" />
<line x1="283.50" y1="589.25" x2="358.25" y2="589.25" stroke="#2a2a2a" stroke-width="0.7" stroke-dasharray="28 4 5 4"/>
<line x1="142.50" y1="788.75" x2="270.00" y2="788.75" stroke="#2a2a2a" stroke-width="0.9" />
<line x1="155.50" y1="589.25" x2="155.50" y2="673.00" stroke="#2a2a2a" stroke-width="0.9" />
<line x1="155.50" y1="694.00" x2="155.50" y2="788.75" stroke="#2a2a2a" stroke-width="0.9" />
<polygon points="155.50,589.25 158.20,602.75 152.80,602.75" fill="#000"/>
<polygon points="155.50,788.75 152.80,775.25 158.20,775.25" fill="#000"/>
<path d="M131.00,673.00 Q125.00,685.00 131.00,697.00" fill="none" stroke="#1c1c1c" stroke-width="0.8" />
<path d="M180.00,673.00 Q186.00,685.00 180.00,697.00" fill="none" stroke="#1c1c1c" stroke-width="0.8" />
<line x1="229.00" y1="772.50" x2="272.00" y2="772.50" stroke="#2a2a2a" stroke-width="0.9" />
<line x1="241.50" y1="747.50" x2="241.50" y2="772.50" stroke="#2a2a2a" stroke-width="0.9" />
<polygon points="241.50,772.50 238.80,759.00 244.20,759.00" fill="#000"/>
<polyline points="241.50,788.75 241.50,827.50 217.00,827.50" fill="none" stroke="#2a2a2a" stroke-width="0.9" />
<polygon points="241.50,788.75 244.20,802.25 238.80,802.25" fill="#000"/>
<path d="M174.00,820.50 Q168.00,831.75 174.00,843.00" fill="none" stroke="#1c1c1c" stroke-width="0.8" />
<path d="M213.00,820.50 Q219.00,831.75 213.00,843.00" fill="none" stroke="#1c1c1c" stroke-width="0.8" />
<rect x="287.50" y="633.75" width="25.00" height="25.00" rx="0" fill="none" stroke="#2a2a2a" stroke-width="0.8" />
<line x1="312.50" y1="646.25" x2="329.00" y2="646.25" stroke="#2a2a2a" stroke-width="0.9" />
<polygon points="328.75,646.25 341.25,640 341.25,652.5" fill="#000"/>
<rect x="212.50" y="680.75" width="97.00" height="25.00" rx="0" fill="none" stroke="#2a2a2a" stroke-width="0.9" />
<line x1="242.50" y1="680.75" x2="242.50" y2="705.75" stroke="#2a2a2a" stroke-width="0.9" />
<line x1="285.50" y1="680.75" x2="285.50" y2="705.75" stroke="#2a2a2a" stroke-width="0.9" />
<line x1="219.00" y1="702.30" x2="236.00" y2="702.30" stroke="#1c1c1c" stroke-width="0.8" />
<line x1="227.50" y1="686.00" x2="227.50" y2="702.30" stroke="#1c1c1c" stroke-width="0.8" />
<polyline points="309.50,693.25 334.50,693.25 334.50,771.00" fill="none" stroke="#2a2a2a" stroke-width="0.9" />
<polygon points="334.50,772.20 331.80,758.70 337.20,758.70" fill="#000"/>
<rect x="208.00" y="714.50" width="73.30" height="25.00" rx="0" fill="none" stroke="#2a2a2a" stroke-width="0.9" />
<line x1="238.80" y1="714.50" x2="238.80" y2="739.50" stroke="#2a2a2a" stroke-width="0.9" />
<polygon points="212.00,732.50 218.50,721.50 233.00,721.50 226.50,732.50" fill="none" stroke="#1c1c1c" stroke-width="0.8" />
<polyline points="281.30,726.75 306.25,726.75 306.25,771.00" fill="none" stroke="#2a2a2a" stroke-width="0.9" />
<polygon points="306.25,772.20 303.55,758.70 308.95,758.70" fill="#000"/>
<rect x="272.50" y="491.25" width="67.00" height="25.00" rx="0" fill="none" stroke="#2a2a2a" stroke-width="0.9" />
<line x1="297.00" y1="491.25" x2="297.00" y2="516.25" stroke="#2a2a2a" stroke-width="0.9" />
<circle cx="284.70" cy="503.80" r="4.20" fill="none" stroke="#1c1c1c" stroke-width="0.8" />
<line x1="277.56" y1="503.80" x2="291.84" y2="503.80" stroke="#1c1c1c" stroke-width="0.8" />
<line x1="284.70" y1="496.66" x2="284.70" y2="510.94" stroke="#1c1c1c" stroke-width="0.8" />
<polyline points="339.50,503.75 365.00,503.75 409.50,597.00" fill="none" stroke="#2a2a2a" stroke-width="0.9" />
<polygon points="410.50,598.90 402.15,587.93 407.20,585.51" fill="#000"/>
<circle cx="163.00" cy="510.30" r="5.10" fill="none" stroke="#1c1c1c" stroke-width="0.9" />
<line x1="159.18" y1="517.95" x2="166.82" y2="502.65" stroke="#1c1c1c" stroke-width="0.9" />
<polyline points="76.30,545.00 88.00,556.00 100.50,545.00" fill="none" stroke="#1c1c1c" stroke-width="0.8" />
<circle cx="117.00" cy="550.50" r="5.10" fill="none" stroke="#1c1c1c" stroke-width="0.9" />
<line x1="113.17" y1="558.15" x2="120.83" y2="542.85" stroke="#1c1c1c" stroke-width="0.9" />
<polyline points="261.00,529.50 327.50,529.50 379.50,652.50" fill="none" stroke="#2a2a2a" stroke-width="0.9" />
<polygon points="380.00,653.75 372.17,642.40 377.32,640.22" fill="#000"/>
<clipPath id="hc1"><path d="M1020.4,538.9 L1036.75,538.9 L1036.75,564.8 L1003.6,564.8 L1003.6,555.4 L1012.5,555.4 Q1020.4,555.4 1020.4,547.5 Z"/></clipPath>
<g clip-path="url(#hc1)">
<line x1="1219.50" y1="800.00" x2="1499.50" y2="520.00" stroke="#222" stroke-width="0.8" />
<line x1="1201.95" y1="800.00" x2="1481.95" y2="520.00" stroke="#222" stroke-width="0.8" />
<line x1="1184.40" y1="800.00" x2="1464.40" y2="520.00" stroke="#222" stroke-width="0.8" />
<line x1="1166.85" y1="800.00" x2="1446.85" y2="520.00" stroke="#222" stroke-width="0.8" />
<line x1="1149.30" y1="800.00" x2="1429.30" y2="520.00" stroke="#222" stroke-width="0.8" />
<line x1="1131.75" y1="800.00" x2="1411.75" y2="520.00" stroke="#222" stroke-width="0.8" />
<line x1="1114.20" y1="800.00" x2="1394.20" y2="520.00" stroke="#222" stroke-width="0.8" />
<line x1="1096.65" y1="800.00" x2="1376.65" y2="520.00" stroke="#222" stroke-width="0.8" />
<line x1="1079.10" y1="800.00" x2="1359.10" y2="520.00" stroke="#222" stroke-width="0.8" />
<line x1="1061.55" y1="800.00" x2="1341.55" y2="520.00" stroke="#222" stroke-width="0.8" />
<line x1="1044.00" y1="800.00" x2="1324.00" y2="520.00" stroke="#222" stroke-width="0.8" />
<line x1="1026.45" y1="800.00" x2="1306.45" y2="520.00" stroke="#222" stroke-width="0.8" />
<line x1="1008.90" y1="800.00" x2="1288.90" y2="520.00" stroke="#222" stroke-width="0.8" />
<line x1="991.35" y1="800.00" x2="1271.35" y2="520.00" stroke="#222" stroke-width="0.8" />
<line x1="973.80" y1="800.00" x2="1253.80" y2="520.00" stroke="#222" stroke-width="0.8" />
<line x1="956.25" y1="800.00" x2="1236.25" y2="520.00" stroke="#222" stroke-width="0.8" />
<line x1="938.70" y1="800.00" x2="1218.70" y2="520.00" stroke="#222" stroke-width="0.8" />
<line x1="921.15" y1="800.00" x2="1201.15" y2="520.00" stroke="#222" stroke-width="0.8" />
<line x1="903.60" y1="800.00" x2="1183.60" y2="520.00" stroke="#222" stroke-width="0.8" />
<line x1="886.05" y1="800.00" x2="1166.05" y2="520.00" stroke="#222" stroke-width="0.8" />
<line x1="868.50" y1="800.00" x2="1148.50" y2="520.00" stroke="#222" stroke-width="0.8" />
<line x1="850.95" y1="800.00" x2="1130.95" y2="520.00" stroke="#222" stroke-width="0.8" />
<line x1="833.40" y1="800.00" x2="1113.40" y2="520.00" stroke="#222" stroke-width="0.8" />
<line x1="815.85" y1="800.00" x2="1095.85" y2="520.00" stroke="#222" stroke-width="0.8" />
<line x1="798.30" y1="800.00" x2="1078.30" y2="520.00" stroke="#222" stroke-width="0.8" />
<line x1="780.75" y1="800.00" x2="1060.75" y2="520.00" stroke="#222" stroke-width="0.8" />
<line x1="763.20" y1="800.00" x2="1043.20" y2="520.00" stroke="#222" stroke-width="0.8" />
<line x1="745.65" y1="800.00" x2="1025.65" y2="520.00" stroke="#222" stroke-width="0.8" />
<line x1="728.10" y1="800.00" x2="1008.10" y2="520.00" stroke="#222" stroke-width="0.8" />
<line x1="710.55" y1="800.00" x2="990.55" y2="520.00" stroke="#222" stroke-width="0.8" />
<line x1="693.00" y1="800.00" x2="973.00" y2="520.00" stroke="#222" stroke-width="0.8" />
<line x1="675.45" y1="800.00" x2="955.45" y2="520.00" stroke="#222" stroke-width="0.8" />
</g>
<path d="M1020.4,538.9 L1036.75,538.9 L1036.75,564.8 L1003.6,564.8 L1003.6,555.4 L1012.5,555.4 Q1020.4,555.4 1020.4,547.5 Z" fill="none" stroke="#1a1a1a" stroke-width="1.25" />
<clipPath id="hc2"><path d="M1003.6,579.5 L1036.75,579.5 L1036.75,589.1 L1003.6,589.1 Z"/></clipPath>
<g clip-path="url(#hc2)">
<line x1="1219.50" y1="800.00" x2="1499.50" y2="520.00" stroke="#222" stroke-width="0.8" />
<line x1="1201.95" y1="800.00" x2="1481.95" y2="520.00" stroke="#222" stroke-width="0.8" />
<line x1="1184.40" y1="800.00" x2="1464.40" y2="520.00" stroke="#222" stroke-width="0.8" />
<line x1="1166.85" y1="800.00" x2="1446.85" y2="520.00" stroke="#222" stroke-width="0.8" />
<line x1="1149.30" y1="800.00" x2="1429.30" y2="520.00" stroke="#222" stroke-width="0.8" />
<line x1="1131.75" y1="800.00" x2="1411.75" y2="520.00" stroke="#222" stroke-width="0.8" />
<line x1="1114.20" y1="800.00" x2="1394.20" y2="520.00" stroke="#222" stroke-width="0.8" />
<line x1="1096.65" y1="800.00" x2="1376.65" y2="520.00" stroke="#222" stroke-width="0.8" />
<line x1="1079.10" y1="800.00" x2="1359.10" y2="520.00" stroke="#222" stroke-width="0.8" />
<line x1="1061.55" y1="800.00" x2="1341.55" y2="520.00" stroke="#222" stroke-width="0.8" />
<line x1="1044.00" y1="800.00" x2="1324.00" y2="520.00" stroke="#222" stroke-width="0.8" />
<line x1="1026.45" y1="800.00" x2="1306.45" y2="520.00" stroke="#222" stroke-width="0.8" />
<line x1="1008.90" y1="800.00" x2="1288.90" y2="520.00" stroke="#222" stroke-width="0.8" />
<line x1="991.35" y1="800.00" x2="1271.35" y2="520.00" stroke="#222" stroke-width="0.8" />
<line x1="973.80" y1="800.00" x2="1253.80" y2="520.00" stroke="#222" stroke-width="0.8" />
<line x1="956.25" y1="800.00" x2="1236.25" y2="520.00" stroke="#222" stroke-width="0.8" />
<line x1="938.70" y1="800.00" x2="1218.70" y2="520.00" stroke="#222" stroke-width="0.8" />
<line x1="921.15" y1="800.00" x2="1201.15" y2="520.00" stroke="#222" stroke-width="0.8" />
<line x1="903.60" y1="800.00" x2="1183.60" y2="520.00" stroke="#222" stroke-width="0.8" />
<line x1="886.05" y1="800.00" x2="1166.05" y2="520.00" stroke="#222" stroke-width="0.8" />
<line x1="868.50" y1="800.00" x2="1148.50" y2="520.00" stroke="#222" stroke-width="0.8" />
<line x1="850.95" y1="800.00" x2="1130.95" y2="520.00" stroke="#222" stroke-width="0.8" />
<line x1="833.40" y1="800.00" x2="1113.40" y2="520.00" stroke="#222" stroke-width="0.8" />
<line x1="815.85" y1="800.00" x2="1095.85" y2="520.00" stroke="#222" stroke-width="0.8" />
<line x1="798.30" y1="800.00" x2="1078.30" y2="520.00" stroke="#222" stroke-width="0.8" />
<line x1="780.75" y1="800.00" x2="1060.75" y2="520.00" stroke="#222" stroke-width="0.8" />
<line x1="763.20" y1="800.00" x2="1043.20" y2="520.00" stroke="#222" stroke-width="0.8" />
<line x1="745.65" y1="800.00" x2="1025.65" y2="520.00" stroke="#222" stroke-width="0.8" />
<line x1="728.10" y1="800.00" x2="1008.10" y2="520.00" stroke="#222" stroke-width="0.8" />
<line x1="710.55" y1="800.00" x2="990.55" y2="520.00" stroke="#222" stroke-width="0.8" />
<line x1="693.00" y1="800.00" x2="973.00" y2="520.00" stroke="#222" stroke-width="0.8" />
<line x1="675.45" y1="800.00" x2="955.45" y2="520.00" stroke="#222" stroke-width="0.8" />
</g>
<path d="M1003.6,579.5 L1036.75,579.5 L1036.75,589.1 L1003.6,589.1 Z" fill="none" stroke="#1a1a1a" stroke-width="1.25" />
<clipPath id="hc3"><path d="M1003.6,738.5 L1036.75,738.5 L1036.75,748.3 L1003.6,748.3 Z"/></clipPath>
<g clip-path="url(#hc3)">
<line x1="1219.50" y1="800.00" x2="1499.50" y2="520.00" stroke="#222" stroke-width="0.8" />
<line x1="1201.95" y1="800.00" x2="1481.95" y2="520.00" stroke="#222" stroke-width="0.8" />
<line x1="1184.40" y1="800.00" x2="1464.40" y2="520.00" stroke="#222" stroke-width="0.8" />
<line x1="1166.85" y1="800.00" x2="1446.85" y2="520.00" stroke="#222" stroke-width="0.8" />
<line x1="1149.30" y1="800.00" x2="1429.30" y2="520.00" stroke="#222" stroke-width="0.8" />
<line x1="1131.75" y1="800.00" x2="1411.75" y2="520.00" stroke="#222" stroke-width="0.8" />
<line x1="1114.20" y1="800.00" x2="1394.20" y2="520.00" stroke="#222" stroke-width="0.8" />
<line x1="1096.65" y1="800.00" x2="1376.65" y2="520.00" stroke="#222" stroke-width="0.8" />
<line x1="1079.10" y1="800.00" x2="1359.10" y2="520.00" stroke="#222" stroke-width="0.8" />
<line x1="1061.55" y1="800.00" x2="1341.55" y2="520.00" stroke="#222" stroke-width="0.8" />
<line x1="1044.00" y1="800.00" x2="1324.00" y2="520.00" stroke="#222" stroke-width="0.8" />
<line x1="1026.45" y1="800.00" x2="1306.45" y2="520.00" stroke="#222" stroke-width="0.8" />
<line x1="1008.90" y1="800.00" x2="1288.90" y2="520.00" stroke="#222" stroke-width="0.8" />
<line x1="991.35" y1="800.00" x2="1271.35" y2="520.00" stroke="#222" stroke-width="0.8" />
<line x1="973.80" y1="800.00" x2="1253.80" y2="520.00" stroke="#222" stroke-width="0.8" />
<line x1="956.25" y1="800.00" x2="1236.25" y2="520.00" stroke="#222" stroke-width="0.8" />
<line x1="938.70" y1="800.00" x2="1218.70" y2="520.00" stroke="#222" stroke-width="0.8" />
<line x1="921.15" y1="800.00" x2="1201.15" y2="520.00" stroke="#222" stroke-width="0.8" />
<line x1="903.60" y1="800.00" x2="1183.60" y2="520.00" stroke="#222" stroke-width="0.8" />
<line x1="886.05" y1="800.00" x2="1166.05" y2="520.00" stroke="#222" stroke-width="0.8" />
<line x1="868.50" y1="800.00" x2="1148.50" y2="520.00" stroke="#222" stroke-width="0.8" />
<line x1="850.95" y1="800.00" x2="1130.95" y2="520.00" stroke="#222" stroke-width="0.8" />
<line x1="833.40" y1="800.00" x2="1113.40" y2="520.00" stroke="#222" stroke-width="0.8" />
<line x1="815.85" y1="800.00" x2="1095.85" y2="520.00" stroke="#222" stroke-width="0.8" />
<line x1="798.30" y1="800.00" x2="1078.30" y2="520.00" stroke="#222" stroke-width="0.8" />
<line x1="780.75" y1="800.00" x2="1060.75" y2="520.00" stroke="#222" stroke-width="0.8" />
<line x1="763.20" y1="800.00" x2="1043.20" y2="520.00" stroke="#222" stroke-width="0.8" />
<line x1="745.65" y1="800.00" x2="1025.65" y2="520.00" stroke="#222" stroke-width="0.8" />
<line x1="728.10" y1="800.00" x2="1008.10" y2="520.00" stroke="#222" stroke-width="0.8" />
<line x1="710.55" y1="800.00" x2="990.55" y2="520.00" stroke="#222" stroke-width="0.8" />
<line x1="693.00" y1="800.00" x2="973.00" y2="520.00" stroke="#222" stroke-width="0.8" />
<line x1="675.45" y1="800.00" x2="955.45" y2="520.00" stroke="#222" stroke-width="0.8" />
</g>
<path d="M1003.6,738.5 L1036.75,738.5 L1036.75,748.3 L1003.6,748.3 Z" fill="none" stroke="#1a1a1a" stroke-width="1.25" />
<line x1="1007.00" y1="564.80" x2="1036.50" y2="564.80" stroke="#222" stroke-width="1.7" stroke-dasharray="5.5 1.8"/>
<line x1="1007.00" y1="579.50" x2="1036.50" y2="579.50" stroke="#222" stroke-width="1.7" stroke-dasharray="5.5 1.8"/>
<line x1="1007.00" y1="748.30" x2="1036.50" y2="748.30" stroke="#222" stroke-width="1.7" stroke-dasharray="5.5 1.8"/>
<line x1="1007.00" y1="762.20" x2="1036.50" y2="762.20" stroke="#222" stroke-width="1.7" stroke-dasharray="5.5 1.8"/>
<line x1="1006.50" y1="564.80" x2="1006.50" y2="579.50" stroke="#1a1a1a" stroke-width="0.8" />
<line x1="1006.50" y1="748.30" x2="1006.50" y2="762.20" stroke="#1a1a1a" stroke-width="0.8" />
<line x1="1003.60" y1="555.40" x2="1003.60" y2="772.20" stroke="#1a1a1a" stroke-width="1.25" />
<line x1="1036.75" y1="538.90" x2="1036.75" y2="772.20" stroke="#1a1a1a" stroke-width="1.25" />
<line x1="1047.50" y1="538.90" x2="1047.50" y2="772.20" stroke="#1a1a1a" stroke-width="1.25" />
<clipPath id="hc4"><path d="M1195.4,538.9 L1179.0500000000002,538.9 L1179.0500000000002,564.8 L1212.2000000000003,564.8 L1212.2000000000003,555.4 L1203.3000000000002,555.4 Q1195.4,555.4 1195.4,547.5 Z"/></clipPath>
<g clip-path="url(#hc4)">
<line x1="1219.50" y1="800.00" x2="1499.50" y2="520.00" stroke="#222" stroke-width="0.8" />
<line x1="1201.95" y1="800.00" x2="1481.95" y2="520.00" stroke="#222" stroke-width="0.8" />
<line x1="1184.40" y1="800.00" x2="1464.40" y2="520.00" stroke="#222" stroke-width="0.8" />
<line x1="1166.85" y1="800.00" x2="1446.85" y2="520.00" stroke="#222" stroke-width="0.8" />
<line x1="1149.30" y1="800.00" x2="1429.30" y2="520.00" stroke="#222" stroke-width="0.8" />
<line x1="1131.75" y1="800.00" x2="1411.75" y2="520.00" stroke="#222" stroke-width="0.8" />
<line x1="1114.20" y1="800.00" x2="1394.20" y2="520.00" stroke="#222" stroke-width="0.8" />
<line x1="1096.65" y1="800.00" x2="1376.65" y2="520.00" stroke="#222" stroke-width="0.8" />
<line x1="1079.10" y1="800.00" x2="1359.10" y2="520.00" stroke="#222" stroke-width="0.8" />
<line x1="1061.55" y1="800.00" x2="1341.55" y2="520.00" stroke="#222" stroke-width="0.8" />
<line x1="1044.00" y1="800.00" x2="1324.00" y2="520.00" stroke="#222" stroke-width="0.8" />
<line x1="1026.45" y1="800.00" x2="1306.45" y2="520.00" stroke="#222" stroke-width="0.8" />
<line x1="1008.90" y1="800.00" x2="1288.90" y2="520.00" stroke="#222" stroke-width="0.8" />
<line x1="991.35" y1="800.00" x2="1271.35" y2="520.00" stroke="#222" stroke-width="0.8" />
<line x1="973.80" y1="800.00" x2="1253.80" y2="520.00" stroke="#222" stroke-width="0.8" />
<line x1="956.25" y1="800.00" x2="1236.25" y2="520.00" stroke="#222" stroke-width="0.8" />
<line x1="938.70" y1="800.00" x2="1218.70" y2="520.00" stroke="#222" stroke-width="0.8" />
<line x1="921.15" y1="800.00" x2="1201.15" y2="520.00" stroke="#222" stroke-width="0.8" />
<line x1="903.60" y1="800.00" x2="1183.60" y2="520.00" stroke="#222" stroke-width="0.8" />
<line x1="886.05" y1="800.00" x2="1166.05" y2="520.00" stroke="#222" stroke-width="0.8" />
<line x1="868.50" y1="800.00" x2="1148.50" y2="520.00" stroke="#222" stroke-width="0.8" />
<line x1="850.95" y1="800.00" x2="1130.95" y2="520.00" stroke="#222" stroke-width="0.8" />
<line x1="833.40" y1="800.00" x2="1113.40" y2="520.00" stroke="#222" stroke-width="0.8" />
<line x1="815.85" y1="800.00" x2="1095.85" y2="520.00" stroke="#222" stroke-width="0.8" />
<line x1="798.30" y1="800.00" x2="1078.30" y2="520.00" stroke="#222" stroke-width="0.8" />
<line x1="780.75" y1="800.00" x2="1060.75" y2="520.00" stroke="#222" stroke-width="0.8" />
<line x1="763.20" y1="800.00" x2="1043.20" y2="520.00" stroke="#222" stroke-width="0.8" />
<line x1="745.65" y1="800.00" x2="1025.65" y2="520.00" stroke="#222" stroke-width="0.8" />
<line x1="728.10" y1="800.00" x2="1008.10" y2="520.00" stroke="#222" stroke-width="0.8" />
<line x1="710.55" y1="800.00" x2="990.55" y2="520.00" stroke="#222" stroke-width="0.8" />
<line x1="693.00" y1="800.00" x2="973.00" y2="520.00" stroke="#222" stroke-width="0.8" />
<line x1="675.45" y1="800.00" x2="955.45" y2="520.00" stroke="#222" stroke-width="0.8" />
</g>
<path d="M1195.4,538.9 L1179.0500000000002,538.9 L1179.0500000000002,564.8 L1212.2000000000003,564.8 L1212.2000000000003,555.4 L1203.3000000000002,555.4 Q1195.4,555.4 1195.4,547.5 Z" fill="none" stroke="#1a1a1a" stroke-width="1.25" />
<clipPath id="hc5"><path d="M1212.2000000000003,579.5 L1179.0500000000002,579.5 L1179.0500000000002,589.1 L1212.2000000000003,589.1 Z"/></clipPath>
<g clip-path="url(#hc5)">
<line x1="1219.50" y1="800.00" x2="1499.50" y2="520.00" stroke="#222" stroke-width="0.8" />
<line x1="1201.95" y1="800.00" x2="1481.95" y2="520.00" stroke="#222" stroke-width="0.8" />
<line x1="1184.40" y1="800.00" x2="1464.40" y2="520.00" stroke="#222" stroke-width="0.8" />
<line x1="1166.85" y1="800.00" x2="1446.85" y2="520.00" stroke="#222" stroke-width="0.8" />
<line x1="1149.30" y1="800.00" x2="1429.30" y2="520.00" stroke="#222" stroke-width="0.8" />
<line x1="1131.75" y1="800.00" x2="1411.75" y2="520.00" stroke="#222" stroke-width="0.8" />
<line x1="1114.20" y1="800.00" x2="1394.20" y2="520.00" stroke="#222" stroke-width="0.8" />
<line x1="1096.65" y1="800.00" x2="1376.65" y2="520.00" stroke="#222" stroke-width="0.8" />
<line x1="1079.10" y1="800.00" x2="1359.10" y2="520.00" stroke="#222" stroke-width="0.8" />
<line x1="1061.55" y1="800.00" x2="1341.55" y2="520.00" stroke="#222" stroke-width="0.8" />
<line x1="1044.00" y1="800.00" x2="1324.00" y2="520.00" stroke="#222" stroke-width="0.8" />
<line x1="1026.45" y1="800.00" x2="1306.45" y2="520.00" stroke="#222" stroke-width="0.8" />
<line x1="1008.90" y1="800.00" x2="1288.90" y2="520.00" stroke="#222" stroke-width="0.8" />
<line x1="991.35" y1="800.00" x2="1271.35" y2="520.00" stroke="#222" stroke-width="0.8" />
<line x1="973.80" y1="800.00" x2="1253.80" y2="520.00" stroke="#222" stroke-width="0.8" />
<line x1="956.25" y1="800.00" x2="1236.25" y2="520.00" stroke="#222" stroke-width="0.8" />
<line x1="938.70" y1="800.00" x2="1218.70" y2="520.00" stroke="#222" stroke-width="0.8" />
<line x1="921.15" y1="800.00" x2="1201.15" y2="520.00" stroke="#222" stroke-width="0.8" />
<line x1="903.60" y1="800.00" x2="1183.60" y2="520.00" stroke="#222" stroke-width="0.8" />
<line x1="886.05" y1="800.00" x2="1166.05" y2="520.00" stroke="#222" stroke-width="0.8" />
<line x1="868.50" y1="800.00" x2="1148.50" y2="520.00" stroke="#222" stroke-width="0.8" />
<line x1="850.95" y1="800.00" x2="1130.95" y2="520.00" stroke="#222" stroke-width="0.8" />
<line x1="833.40" y1="800.00" x2="1113.40" y2="520.00" stroke="#222" stroke-width="0.8" />
<line x1="815.85" y1="800.00" x2="1095.85" y2="520.00" stroke="#222" stroke-width="0.8" />
<line x1="798.30" y1="800.00" x2="1078.30" y2="520.00" stroke="#222" stroke-width="0.8" />
<line x1="780.75" y1="800.00" x2="1060.75" y2="520.00" stroke="#222" stroke-width="0.8" />
<line x1="763.20" y1="800.00" x2="1043.20" y2="520.00" stroke="#222" stroke-width="0.8" />
<line x1="745.65" y1="800.00" x2="1025.65" y2="520.00" stroke="#222" stroke-width="0.8" />
<line x1="728.10" y1="800.00" x2="1008.10" y2="520.00" stroke="#222" stroke-width="0.8" />
<line x1="710.55" y1="800.00" x2="990.55" y2="520.00" stroke="#222" stroke-width="0.8" />
<line x1="693.00" y1="800.00" x2="973.00" y2="520.00" stroke="#222" stroke-width="0.8" />
<line x1="675.45" y1="800.00" x2="955.45" y2="520.00" stroke="#222" stroke-width="0.8" />
</g>
<path d="M1212.2000000000003,579.5 L1179.0500000000002,579.5 L1179.0500000000002,589.1 L1212.2000000000003,589.1 Z" fill="none" stroke="#1a1a1a" stroke-width="1.25" />
<clipPath id="hc6"><path d="M1212.2000000000003,738.5 L1179.0500000000002,738.5 L1179.0500000000002,748.3 L1212.2000000000003,748.3 Z"/></clipPath>
<g clip-path="url(#hc6)">
<line x1="1219.50" y1="800.00" x2="1499.50" y2="520.00" stroke="#222" stroke-width="0.8" />
<line x1="1201.95" y1="800.00" x2="1481.95" y2="520.00" stroke="#222" stroke-width="0.8" />
<line x1="1184.40" y1="800.00" x2="1464.40" y2="520.00" stroke="#222" stroke-width="0.8" />
<line x1="1166.85" y1="800.00" x2="1446.85" y2="520.00" stroke="#222" stroke-width="0.8" />
<line x1="1149.30" y1="800.00" x2="1429.30" y2="520.00" stroke="#222" stroke-width="0.8" />
<line x1="1131.75" y1="800.00" x2="1411.75" y2="520.00" stroke="#222" stroke-width="0.8" />
<line x1="1114.20" y1="800.00" x2="1394.20" y2="520.00" stroke="#222" stroke-width="0.8" />
<line x1="1096.65" y1="800.00" x2="1376.65" y2="520.00" stroke="#222" stroke-width="0.8" />
<line x1="1079.10" y1="800.00" x2="1359.10" y2="520.00" stroke="#222" stroke-width="0.8" />
<line x1="1061.55" y1="800.00" x2="1341.55" y2="520.00" stroke="#222" stroke-width="0.8" />
<line x1="1044.00" y1="800.00" x2="1324.00" y2="520.00" stroke="#222" stroke-width="0.8" />
<line x1="1026.45" y1="800.00" x2="1306.45" y2="520.00" stroke="#222" stroke-width="0.8" />
<line x1="1008.90" y1="800.00" x2="1288.90" y2="520.00" stroke="#222" stroke-width="0.8" />
<line x1="991.35" y1="800.00" x2="1271.35" y2="520.00" stroke="#222" stroke-width="0.8" />
<line x1="973.80" y1="800.00" x2="1253.80" y2="520.00" stroke="#222" stroke-width="0.8" />
<line x1="956.25" y1="800.00" x2="1236.25" y2="520.00" stroke="#222" stroke-width="0.8" />
<line x1="938.70" y1="800.00" x2="1218.70" y2="520.00" stroke="#222" stroke-width="0.8" />
<line x1="921.15" y1="800.00" x2="1201.15" y2="520.00" stroke="#222" stroke-width="0.8" />
<line x1="903.60" y1="800.00" x2="1183.60" y2="520.00" stroke="#222" stroke-width="0.8" />
<line x1="886.05" y1="800.00" x2="1166.05" y2="520.00" stroke="#222" stroke-width="0.8" />
<line x1="868.50" y1="800.00" x2="1148.50" y2="520.00" stroke="#222" stroke-width="0.8" />
<line x1="850.95" y1="800.00" x2="1130.95" y2="520.00" stroke="#222" stroke-width="0.8" />
<line x1="833.40" y1="800.00" x2="1113.40" y2="520.00" stroke="#222" stroke-width="0.8" />
<line x1="815.85" y1="800.00" x2="1095.85" y2="520.00" stroke="#222" stroke-width="0.8" />
<line x1="798.30" y1="800.00" x2="1078.30" y2="520.00" stroke="#222" stroke-width="0.8" />
<line x1="780.75" y1="800.00" x2="1060.75" y2="520.00" stroke="#222" stroke-width="0.8" />
<line x1="763.20" y1="800.00" x2="1043.20" y2="520.00" stroke="#222" stroke-width="0.8" />
<line x1="745.65" y1="800.00" x2="1025.65" y2="520.00" stroke="#222" stroke-width="0.8" />
<line x1="728.10" y1="800.00" x2="1008.10" y2="520.00" stroke="#222" stroke-width="0.8" />
<line x1="710.55" y1="800.00" x2="990.55" y2="520.00" stroke="#222" stroke-width="0.8" />
<line x1="693.00" y1="800.00" x2="973.00" y2="520.00" stroke="#222" stroke-width="0.8" />
<line x1="675.45" y1="800.00" x2="955.45" y2="520.00" stroke="#222" stroke-width="0.8" />
</g>
<path d="M1212.2000000000003,738.5 L1179.0500000000002,738.5 L1179.0500000000002,748.3 L1212.2000000000003,748.3 Z" fill="none" stroke="#1a1a1a" stroke-width="1.25" />
<line x1="1208.80" y1="564.80" x2="1179.30" y2="564.80" stroke="#222" stroke-width="1.7" stroke-dasharray="5.5 1.8"/>
<line x1="1208.80" y1="579.50" x2="1179.30" y2="579.50" stroke="#222" stroke-width="1.7" stroke-dasharray="5.5 1.8"/>
<line x1="1208.80" y1="748.30" x2="1179.30" y2="748.30" stroke="#222" stroke-width="1.7" stroke-dasharray="5.5 1.8"/>
<line x1="1208.80" y1="762.20" x2="1179.30" y2="762.20" stroke="#222" stroke-width="1.7" stroke-dasharray="5.5 1.8"/>
<line x1="1209.30" y1="564.80" x2="1209.30" y2="579.50" stroke="#1a1a1a" stroke-width="0.8" />
<line x1="1209.30" y1="748.30" x2="1209.30" y2="762.20" stroke="#1a1a1a" stroke-width="0.8" />
<line x1="1212.20" y1="555.40" x2="1212.20" y2="772.20" stroke="#1a1a1a" stroke-width="1.25" />
<line x1="1179.05" y1="538.90" x2="1179.05" y2="772.20" stroke="#1a1a1a" stroke-width="1.25" />
<line x1="1168.30" y1="538.90" x2="1168.30" y2="772.20" stroke="#1a1a1a" stroke-width="1.25" />
<clipPath id="hc7"><path d="M1003.6,762.2 L1036.75,762.2 L1036.75,772.2 L1179.0500000000002,772.2 L1179.0500000000002,762.2 L1212.2000000000003,762.2 L1212.2000000000003,772.2 L1203.3000000000002,772.2 Q1195.4,772.2 1195.4,780 L1195.4,788.9 L1020.4,788.9 L1020.4,780 Q1020.4,772.2 1012.5,772.2 L1003.6,772.2 Z"/></clipPath>
<g clip-path="url(#hc7)">
<line x1="1219.50" y1="800.00" x2="1499.50" y2="520.00" stroke="#222" stroke-width="0.8" />
<line x1="1201.95" y1="800.00" x2="1481.95" y2="520.00" stroke="#222" stroke-width="0.8" />
<line x1="1184.40" y1="800.00" x2="1464.40" y2="520.00" stroke="#222" stroke-width="0.8" />
<line x1="1166.85" y1="800.00" x2="1446.85" y2="520.00" stroke="#222" stroke-width="0.8" />
<line x1="1149.30" y1="800.00" x2="1429.30" y2="520.00" stroke="#222" stroke-width="0.8" />
<line x1="1131.75" y1="800.00" x2="1411.75" y2="520.00" stroke="#222" stroke-width="0.8" />
<line x1="1114.20" y1="800.00" x2="1394.20" y2="520.00" stroke="#222" stroke-width="0.8" />
<line x1="1096.65" y1="800.00" x2="1376.65" y2="520.00" stroke="#222" stroke-width="0.8" />
<line x1="1079.10" y1="800.00" x2="1359.10" y2="520.00" stroke="#222" stroke-width="0.8" />
<line x1="1061.55" y1="800.00" x2="1341.55" y2="520.00" stroke="#222" stroke-width="0.8" />
<line x1="1044.00" y1="800.00" x2="1324.00" y2="520.00" stroke="#222" stroke-width="0.8" />
<line x1="1026.45" y1="800.00" x2="1306.45" y2="520.00" stroke="#222" stroke-width="0.8" />
<line x1="1008.90" y1="800.00" x2="1288.90" y2="520.00" stroke="#222" stroke-width="0.8" />
<line x1="991.35" y1="800.00" x2="1271.35" y2="520.00" stroke="#222" stroke-width="0.8" />
<line x1="973.80" y1="800.00" x2="1253.80" y2="520.00" stroke="#222" stroke-width="0.8" />
<line x1="956.25" y1="800.00" x2="1236.25" y2="520.00" stroke="#222" stroke-width="0.8" />
<line x1="938.70" y1="800.00" x2="1218.70" y2="520.00" stroke="#222" stroke-width="0.8" />
<line x1="921.15" y1="800.00" x2="1201.15" y2="520.00" stroke="#222" stroke-width="0.8" />
<line x1="903.60" y1="800.00" x2="1183.60" y2="520.00" stroke="#222" stroke-width="0.8" />
<line x1="886.05" y1="800.00" x2="1166.05" y2="520.00" stroke="#222" stroke-width="0.8" />
<line x1="868.50" y1="800.00" x2="1148.50" y2="520.00" stroke="#222" stroke-width="0.8" />
<line x1="850.95" y1="800.00" x2="1130.95" y2="520.00" stroke="#222" stroke-width="0.8" />
<line x1="833.40" y1="800.00" x2="1113.40" y2="520.00" stroke="#222" stroke-width="0.8" />
<line x1="815.85" y1="800.00" x2="1095.85" y2="520.00" stroke="#222" stroke-width="0.8" />
<line x1="798.30" y1="800.00" x2="1078.30" y2="520.00" stroke="#222" stroke-width="0.8" />
<line x1="780.75" y1="800.00" x2="1060.75" y2="520.00" stroke="#222" stroke-width="0.8" />
<line x1="763.20" y1="800.00" x2="1043.20" y2="520.00" stroke="#222" stroke-width="0.8" />
<line x1="745.65" y1="800.00" x2="1025.65" y2="520.00" stroke="#222" stroke-width="0.8" />
<line x1="728.10" y1="800.00" x2="1008.10" y2="520.00" stroke="#222" stroke-width="0.8" />
<line x1="710.55" y1="800.00" x2="990.55" y2="520.00" stroke="#222" stroke-width="0.8" />
<line x1="693.00" y1="800.00" x2="973.00" y2="520.00" stroke="#222" stroke-width="0.8" />
<line x1="675.45" y1="800.00" x2="955.45" y2="520.00" stroke="#222" stroke-width="0.8" />
</g>
<path d="M1003.6,762.2 L1036.75,762.2 L1036.75,772.2 L1179.0500000000002,772.2 L1179.0500000000002,762.2 L1212.2000000000003,762.2 L1212.2000000000003,772.2 L1203.3000000000002,772.2 Q1195.4,772.2 1195.4,780 L1195.4,788.9 L1020.4,788.9 L1020.4,780 Q1020.4,772.2 1012.5,772.2 L1003.6,772.2 Z" fill="none" stroke="#1a1a1a" stroke-width="1.25" />
<line x1="1020.40" y1="538.90" x2="1195.40" y2="538.90" stroke="#1a1a1a" stroke-width="1.25" />
<circle cx="1108.75" cy="589.25" r="19.50" fill="none" stroke="#1a1a1a" stroke-width="1.25" />
<line x1="1078.00" y1="589.25" x2="1140.00" y2="589.25" stroke="#2a2a2a" stroke-width="0.7" stroke-dasharray="16 4 5 4"/>
<line x1="1140.00" y1="589.25" x2="1168.75" y2="589.25" stroke="#2a2a2a" stroke-width="0.7" />
<line x1="1108.75" y1="560.00" x2="1108.75" y2="616.00" stroke="#2a2a2a" stroke-width="0.7" stroke-dasharray="14 4 5 4"/>
<line x1="898.75" y1="663.75" x2="994.00" y2="663.75" stroke="#2a2a2a" stroke-width="0.7" />
<line x1="998.00" y1="663.75" x2="1002.00" y2="663.75" stroke="#2a2a2a" stroke-width="0.7" />
<line x1="1008.00" y1="663.75" x2="1061.25" y2="663.75" stroke="#2a2a2a" stroke-width="0.7" stroke-dasharray="30 4 5 4"/>
<line x1="1155.00" y1="663.75" x2="1237.50" y2="663.75" stroke="#2a2a2a" stroke-width="0.7" stroke-dasharray="34 4 5 4"/>
<line x1="1036.75" y1="430.00" x2="1036.75" y2="534.00" stroke="#2a2a2a" stroke-width="0.9" />
<line x1="1108.75" y1="430.00" x2="1108.75" y2="560.00" stroke="#2a2a2a" stroke-width="0.9" />
<line x1="1026.00" y1="443.00" x2="1036.75" y2="443.00" stroke="#2a2a2a" stroke-width="0.9" />
<line x1="1036.75" y1="443.00" x2="1108.75" y2="443.00" stroke="#2a2a2a" stroke-width="0.9" />
<polygon points="1036.75,443.00 1050.25,440.30 1050.25,445.70" fill="#000"/>
<polygon points="1108.75,443.00 1095.25,445.70 1095.25,440.30" fill="#000"/>
<path d="M952.00,440.00 Q946.00,451.50 952.00,463.00" fill="none" stroke="#1c1c1c" stroke-width="0.8" />
<path d="M1021.50,440.00 Q1027.50,451.50 1021.50,463.00" fill="none" stroke="#1c1c1c" stroke-width="0.8" />
<path d="M1169.00,462.00 Q1163.00,473.75 1169.00,485.50" fill="none" stroke="#1c1c1c" stroke-width="0.8" />
<path d="M1257.30,462.00 Q1263.30,473.75 1257.30,485.50" fill="none" stroke="#1c1c1c" stroke-width="0.8" />
<circle cx="1203.00" cy="472.30" r="5.10" fill="none" stroke="#1c1c1c" stroke-width="0.9" />
<line x1="1199.17" y1="479.95" x2="1206.83" y2="464.65" stroke="#1c1c1c" stroke-width="0.9" />
<rect x="1164.50" y="481.75" width="68.00" height="25.00" rx="0" fill="none" stroke="#2a2a2a" stroke-width="0.9" />
<line x1="1189.25" y1="481.75" x2="1189.25" y2="506.75" stroke="#2a2a2a" stroke-width="0.9" />
<circle cx="1176.90" cy="494.20" r="4.20" fill="none" stroke="#1c1c1c" stroke-width="0.8" />
<line x1="1169.76" y1="494.20" x2="1184.04" y2="494.20" stroke="#1c1c1c" stroke-width="0.8" />
<line x1="1176.90" y1="487.06" x2="1176.90" y2="501.34" stroke="#1c1c1c" stroke-width="0.8" />
<polyline points="1165.00,470.00 1140.00,470.00 1113.30,569.00" fill="none" stroke="#2a2a2a" stroke-width="0.9" />
<polygon points="1113.00,570.00 1113.91,556.26 1119.13,557.67" fill="#000"/>
<rect x="980.50" y="495.50" width="25.30" height="25.30" rx="0" fill="none" stroke="#2a2a2a" stroke-width="0.8" />
<line x1="993.20" y1="520.80" x2="993.20" y2="544.00" stroke="#2a2a2a" stroke-width="0.9" />
<polygon points="993.2,543.5 987,555.5 999.5,555.5" fill="#000"/>
<line x1="975.00" y1="555.50" x2="1003.75" y2="555.50" stroke="#2a2a2a" stroke-width="0.9" />
<rect x="944.25" y="535.50" width="25.30" height="25.00" rx="0" fill="none" stroke="#2a2a2a" stroke-width="0.8" />
<line x1="957.00" y1="560.50" x2="957.00" y2="577.50" stroke="#2a2a2a" stroke-width="0.9" />
<polygon points="957,577 950.6,589 963.3,589" fill="#000"/>
<line x1="938.00" y1="589.25" x2="998.75" y2="589.25" stroke="#2a2a2a" stroke-width="0.9" />
<rect x="845.50" y="610.00" width="105.25" height="25.00" rx="0" fill="none" stroke="#2a2a2a" stroke-width="0.9" />
<line x1="870.50" y1="610.00" x2="870.50" y2="635.00" stroke="#2a2a2a" stroke-width="0.9" />
<line x1="913.25" y1="610.00" x2="913.25" y2="635.00" stroke="#2a2a2a" stroke-width="0.9" />
<circle cx="858.00" cy="622.50" r="7.50" fill="none" stroke="#1c1c1c" stroke-width="0.8" />
<circle cx="858.00" cy="622.50" r="4.60" fill="none" stroke="#1c1c1c" stroke-width="0.8" />
<polyline points="950.75,622.00 975.00,622.00 992.60,662.00" fill="none" stroke="#2a2a2a" stroke-width="0.9" />
<polygon points="993.00,663.00 985.10,651.72 990.05,649.55" fill="#000"/>
<line x1="898.80" y1="788.90" x2="1015.00" y2="788.90" stroke="#2a2a2a" stroke-width="0.9" />
<line x1="911.00" y1="663.75" x2="911.00" y2="721.00" stroke="#2a2a2a" stroke-width="0.9" />
<line x1="911.00" y1="742.00" x2="911.00" y2="788.90" stroke="#2a2a2a" stroke-width="0.9" />
<polygon points="911.00,663.75 913.70,677.25 908.30,677.25" fill="#000"/>
<polygon points="911.00,788.90 908.30,775.40 913.70,775.40" fill="#000"/>
<line x1="1212.00" y1="589.25" x2="1277.50" y2="589.25" stroke="#2a2a2a" stroke-width="0.9" />
<line x1="1216.00" y1="772.20" x2="1276.80" y2="772.20" stroke="#2a2a2a" stroke-width="0.9" />
<line x1="1264.00" y1="589.25" x2="1264.00" y2="679.00" stroke="#2a2a2a" stroke-width="0.9" />
<line x1="1264.00" y1="700.00" x2="1264.00" y2="772.20" stroke="#2a2a2a" stroke-width="0.9" />
<polygon points="1264.00,589.25 1266.70,602.75 1261.30,602.75" fill="#000"/>
<polygon points="1264.00,772.20 1261.30,758.70 1266.70,758.70" fill="#000"/>
<path d="M1228.50,678.00 Q1222.50,689.75 1228.50,701.50" fill="none" stroke="#1c1c1c" stroke-width="0.8" />
<path d="M1299.00,678.00 Q1305.00,689.75 1299.00,701.50" fill="none" stroke="#1c1c1c" stroke-width="0.8" />
<line x1="1200.00" y1="538.90" x2="1348.75" y2="538.90" stroke="#2a2a2a" stroke-width="0.9" />
<line x1="1201.00" y1="788.90" x2="1347.70" y2="788.90" stroke="#2a2a2a" stroke-width="0.9" />
<line x1="1335.20" y1="538.90" x2="1335.20" y2="679.00" stroke="#2a2a2a" stroke-width="0.9" />
<line x1="1335.20" y1="700.00" x2="1335.20" y2="788.90" stroke="#2a2a2a" stroke-width="0.9" />
<polygon points="1335.20,538.90 1337.90,552.40 1332.50,552.40" fill="#000"/>
<polygon points="1335.20,788.90 1332.50,775.40 1337.90,775.40" fill="#000"/>
<g id="iso">
<defs>
<linearGradient id="gBossL" gradientUnits="userSpaceOnUse" x1="1183.0" y1="128.0" x2="1212.0" y2="158.0"><stop offset="0" stop-color="#eceae6"/><stop offset="0.4" stop-color="#d0cdc9"/><stop offset="1" stop-color="#8a8784"/></linearGradient>
<linearGradient id="gCorF" gradientUnits="userSpaceOnUse" x1="1334.0" y1="356.6" x2="1356.2" y2="356.6"><stop offset="0" stop-color="#6a6664"/><stop offset="0.3" stop-color="#a19e9a"/><stop offset="0.6" stop-color="#b3b0ac"/><stop offset="1" stop-color="#9b9894"/></linearGradient>
<linearGradient id="gCorL" gradientUnits="userSpaceOnUse" x1="1156.0" y1="0.0" x2="1169.0" y2="0.0"><stop offset="0" stop-color="#3f3c3b"/><stop offset="0.5" stop-color="#6f6c69"/><stop offset="1" stop-color="#5f5b59"/></linearGradient>
<linearGradient id="gCorR" gradientUnits="userSpaceOnUse" x1="1452.0" y1="0.0" x2="1469.0" y2="0.0"><stop offset="0" stop-color="#9b9894"/><stop offset="0.6" stop-color="#8a8784"/><stop offset="1" stop-color="#5a5755"/></linearGradient>
<linearGradient id="gCorI" gradientUnits="userSpaceOnUse" x1="1279.0" y1="0.0" x2="1295.0" y2="0.0"><stop offset="0" stop-color="#8f8c88"/><stop offset="0.45" stop-color="#a9a6a2"/><stop offset="0.85" stop-color="#8a8784"/><stop offset="1" stop-color="#6a6765"/></linearGradient>
<linearGradient id="gBore" gradientUnits="userSpaceOnUse" x1="1185.0" y1="290.0" x2="1262.0" y2="372.0"><stop offset="0" stop-color="#7d7a77"/><stop offset="0.25" stop-color="#c9c6c2"/><stop offset="0.6" stop-color="#f1efec"/><stop offset="1" stop-color="#dedbd7"/></linearGradient>
<linearGradient id="gBoreB" gradientUnits="userSpaceOnUse" x1="1312.0" y1="215.0" x2="1352.0" y2="250.0"><stop offset="0" stop-color="#8a8784"/><stop offset="0.5" stop-color="#d7d4d0"/><stop offset="1" stop-color="#efedea"/></linearGradient>
<linearGradient id="gFlSide" gradientUnits="userSpaceOnUse" x1="1215.0" y1="215.0" x2="1330.0" y2="330.0"><stop offset="0" stop-color="#c5c2be"/><stop offset="0.35" stop-color="#f3f1ee"/><stop offset="0.7" stop-color="#e0ddd9"/><stop offset="1" stop-color="#b5b2ae"/></linearGradient>
<linearGradient id="gFlFil" gradientUnits="userSpaceOnUse" x1="1205.0" y1="215.0" x2="1340.0" y2="345.0"><stop offset="0" stop-color="#85827f"/><stop offset="0.22" stop-color="#d9d6d2"/><stop offset="0.5" stop-color="#f7f6f3"/><stop offset="0.78" stop-color="#d9d6d2"/><stop offset="1" stop-color="#8f8c88"/></linearGradient>
<linearGradient id="gBossR" gradientUnits="userSpaceOnUse" x1="1433.0" y1="252.0" x2="1403.0" y2="304.0"><stop offset="0" stop-color="#c9c6c2"/><stop offset="0.25" stop-color="#ebe9e5"/><stop offset="0.6" stop-color="#b5b2ae"/><stop offset="1" stop-color="#55524f"/></linearGradient>
<linearGradient id="gBossRf" gradientUnits="userSpaceOnUse" x1="1422.0" y1="238.0" x2="1388.0" y2="300.0"><stop offset="0" stop-color="#bdbab6"/><stop offset="0.3" stop-color="#eceae6"/><stop offset="0.65" stop-color="#c5c2be"/><stop offset="1" stop-color="#6c6966"/></linearGradient>
<linearGradient id="gHoleR" gradientUnits="userSpaceOnUse" x1="1418.0" y1="268.0" x2="1445.0" y2="300.0"><stop offset="0" stop-color="#7d7a77"/><stop offset="0.45" stop-color="#cfccc8"/><stop offset="1" stop-color="#f3f1ee"/></linearGradient>
<linearGradient id="gBaseCor" gradientUnits="userSpaceOnUse" x1="0.0" y1="0.0" x2="1.0" y2="0.0"><stop offset="0" stop-color="#5f5b59"/><stop offset="1" stop-color="#9b9894"/></linearGradient>
<linearGradient id="gHoleL" gradientUnits="userSpaceOnUse" x1="1250.0" y1="158.0" x2="1226.0" y2="186.0"><stop offset="0" stop-color="#6f6c69"/><stop offset="0.4" stop-color="#c9c6c2"/><stop offset="1" stop-color="#f0eeeb"/></linearGradient>
<linearGradient id="gFront" gradientUnits="userSpaceOnUse" x1="1165.0" y1="170.0" x2="1340.0" y2="440.0"><stop offset="0" stop-color="#6d6967"/><stop offset="0.5" stop-color="#5f5b59"/><stop offset="1" stop-color="#575351"/></linearGradient>
<linearGradient id="gBH" gradientUnits="userSpaceOnUse" x1="0.0" y1="0.0" x2="1.0" y2="1.0"><stop offset="0" stop-color="#8a8784"/><stop offset="1" stop-color="#d6d3cf"/></linearGradient>
</defs>
<path d="M1171.5,162.6 L1171.8,158.9 L1172.3,155.1 L1173.3,151.2 L1174.7,147.2 L1176.4,143.2 L1178.4,139.4 L1180.8,135.7 L1183.3,132.3 L1186.1,129.1 L1189.0,126.3 L1192.0,123.8 L1195.1,121.8 L1198.2,120.3 L1201.2,119.2 L1204.1,118.7 L1206.8,118.7 L1209.4,119.2 L1211.7,120.2 L1235.2,133.8 L1237.3,135.3 L1239.0,137.2 L1240.3,139.7 L1241.3,142.4 L1241.9,145.6 L1242.2,149.0 L1241.9,152.7 L1241.3,156.5 L1240.3,160.4 L1239.0,164.4 L1237.3,168.4 L1235.2,172.2 L1232.9,175.9 L1230.4,179.3 L1227.6,182.5 L1224.7,185.3 L1221.7,187.8 L1218.6,189.8 L1215.5,191.3 L1212.5,192.4 L1209.6,192.9 L1206.8,192.9 L1204.3,192.4 L1202.0,191.4 L1178.4,177.8 L1176.4,176.3 L1174.7,174.4 L1173.3,172.0 L1172.3,169.2 L1171.8,166.0 Z" fill="url(#gBossL)" stroke="#242322" stroke-width="0.9" stroke-linejoin="round" />
<path d="M1116.5,320.5 L1117.0,318.0 L1118.7,315.7 L1121.3,313.7 L1221.4,255.9 L1224.8,254.4 L1228.8,253.4 L1233.1,253.1 L1237.5,253.4 L1241.5,254.4 L1244.9,255.9 L1504.1,405.6 L1506.8,407.6 L1508.5,409.9 L1509.0,412.4 L1509.0,426.0 L1508.5,428.5 L1506.8,430.8 L1504.1,432.8 L1404.1,490.6 L1400.7,492.1 L1396.7,493.0 L1392.3,493.4 L1388.0,493.0 L1384.0,492.1 L1380.6,490.6 L1121.3,340.9 L1118.7,338.9 L1117.0,336.6 L1116.5,334.1 Z" fill="#5f5b59" stroke="#242322" stroke-width="0.9" stroke-linejoin="round" />
<path d="M1404.1,477.0 L1504.1,419.2 L1504.1,432.8 L1404.1,490.6 Z" fill="#9b9894" stroke="#242322" stroke-width="0.9" stroke-linejoin="round" />
<defs>
<linearGradient id="gBC1" gradientUnits="userSpaceOnUse" x1="1380.6" y1="484.1" x2="1404.1" y2="484.1"><stop offset="0" stop-color="#5f5b59"/><stop offset="0.4" stop-color="#b5b2ae"/><stop offset="1" stop-color="#9b9894"/></linearGradient>
</defs>
<path d="M1380.6,477.0 L1384.0,478.5 L1388.0,479.4 L1392.4,479.8 L1396.7,479.4 L1400.7,478.5 L1404.1,477.0 L1404.1,490.6 L1400.7,492.1 L1396.7,493.0 L1392.4,493.4 L1388.0,493.0 L1384.0,492.1 L1380.6,490.6 Z" fill="url(#gBC1)" stroke="#242322" stroke-width="0.9" stroke-linejoin="round" />
<path d="M1504.1,419.2 L1506.8,417.2 L1508.4,414.9 L1509.0,412.4 L1509.0,426.0 L1508.4,428.5 L1506.8,430.8 L1504.1,432.8 Z" fill="#7d7a77" stroke="#242322" stroke-width="0.9" stroke-linejoin="round" />
<path d="M1116.5,320.5 L1117.0,323.0 L1118.7,325.3 L1121.3,327.3 L1121.3,340.9 L1118.7,338.9 L1117.0,336.6 L1116.5,334.1 Z" fill="#8a8784" stroke="#242322" stroke-width="0.9" stroke-linejoin="round" />
<path d="M1121.3,313.7 L1118.7,315.7 L1117.0,318.0 L1116.5,320.5 L1117.0,323.0 L1118.7,325.3 L1121.3,327.3 L1380.6,477.0 L1384.0,478.5 L1388.0,479.4 L1392.4,479.8 L1396.7,479.4 L1400.7,478.5 L1404.1,477.0 L1504.1,419.2 L1506.8,417.2 L1508.4,414.9 L1509.0,412.4 L1508.4,409.9 L1506.8,407.6 L1504.1,405.6 L1244.9,255.9 L1241.5,254.4 L1237.4,253.4 L1233.1,253.1 L1228.8,253.4 L1224.8,254.4 L1221.4,255.9 Z" fill="#f1efec" stroke="#242322" stroke-width="0.9" stroke-linejoin="round" />
<path d="M1123.9,314.8 L1121.7,316.4 L1120.3,318.4 L1119.8,320.5 L1120.3,322.6 L1121.7,324.5 L1123.9,326.2 L1382.4,475.5 L1385.3,476.8 L1388.7,477.6 L1392.4,477.8 L1396.0,477.6 L1399.4,476.8 L1402.3,475.5 L1501.5,418.1 L1503.8,416.5 L1505.2,414.5 L1505.7,412.4 L1505.2,410.3 L1503.8,408.4 L1501.5,406.7 L1243.1,257.4 L1240.2,256.1 L1236.8,255.3 L1233.1,255.0 L1229.5,255.3 L1226.1,256.1 L1223.2,257.4 Z" fill="#e3e0dc" stroke="#7d7a77" stroke-width="0.6" stroke-linejoin="round" />
<clipPath id="sl63415n"><path d="M1150.3,317.1 L1148.9,318.1 L1148.0,319.4 L1147.7,320.8 L1148.0,322.2 L1148.9,323.4 L1150.3,324.5 L1152.2,325.4 L1154.5,325.9 L1156.8,326.1 L1159.2,325.9 L1161.4,325.4 L1163.3,324.5 L1180.4,314.7 L1181.8,313.6 L1182.7,312.3 L1183.1,311.0 L1182.7,309.6 L1181.8,308.3 L1180.4,307.2 L1178.5,306.4 L1176.3,305.8 L1173.9,305.7 L1171.5,305.8 L1169.3,306.4 L1167.4,307.2 Z"/></clipPath>
<path d="M1150.3,317.1 L1148.9,318.1 L1148.0,319.4 L1147.7,320.8 L1148.0,322.2 L1148.9,323.4 L1150.3,324.5 L1152.2,325.4 L1154.5,325.9 L1156.8,326.1 L1159.2,325.9 L1161.4,325.4 L1163.3,324.5 L1180.4,314.7 L1181.8,313.6 L1182.7,312.3 L1183.1,311.0 L1182.7,309.6 L1181.8,308.3 L1180.4,307.2 L1178.5,306.4 L1176.3,305.8 L1173.9,305.7 L1171.5,305.8 L1169.3,306.4 L1167.4,307.2 Z" fill="#b7b4b0" stroke="#242322" stroke-width="0.9" stroke-linejoin="round" />
<g clip-path="url(#sl63415n)">
<rect x="1125.4" y="300" width="40" height="200" fill="#8d8a86"/>
<line x1="1165.36" y1="300.00" x2="1165.36" y2="500.00" stroke="#242322" stroke-width="0.7" />
</g>
<path d="M1150.3,317.1 L1148.9,318.1 L1148.0,319.4 L1147.7,320.8 L1148.0,322.2 L1148.9,323.4 L1150.3,324.5 L1152.2,325.4 L1154.5,325.9 L1156.8,326.1 L1159.2,325.9 L1161.4,325.4 L1163.3,324.5 L1180.4,314.7 L1181.8,313.6 L1182.7,312.3 L1183.1,311.0 L1182.7,309.6 L1181.8,308.3 L1180.4,307.2 L1178.5,306.4 L1176.3,305.8 L1173.9,305.7 L1171.5,305.8 L1169.3,306.4 L1167.4,307.2 Z" fill="none" stroke="#242322" stroke-width="0.9" stroke-linejoin="round" />
<clipPath id="sl63415p"><path d="M1385.3,452.7 L1383.9,453.8 L1382.9,455.1 L1382.6,456.5 L1382.9,457.8 L1383.9,459.1 L1385.3,460.2 L1387.2,461.1 L1389.4,461.6 L1391.8,461.8 L1394.2,461.6 L1396.4,461.1 L1398.3,460.2 L1415.3,450.4 L1416.8,449.3 L1417.7,448.0 L1418.0,446.6 L1417.7,445.3 L1416.8,444.0 L1415.3,442.9 L1413.4,442.0 L1411.2,441.5 L1408.8,441.3 L1406.5,441.5 L1404.3,442.0 L1402.4,442.9 Z"/></clipPath>
<path d="M1385.3,452.7 L1383.9,453.8 L1382.9,455.1 L1382.6,456.5 L1382.9,457.8 L1383.9,459.1 L1385.3,460.2 L1387.2,461.1 L1389.4,461.6 L1391.8,461.8 L1394.2,461.6 L1396.4,461.1 L1398.3,460.2 L1415.3,450.4 L1416.8,449.3 L1417.7,448.0 L1418.0,446.6 L1417.7,445.3 L1416.8,444.0 L1415.3,442.9 L1413.4,442.0 L1411.2,441.5 L1408.8,441.3 L1406.5,441.5 L1404.3,442.0 L1402.4,442.9 Z" fill="#b7b4b0" stroke="#242322" stroke-width="0.9" stroke-linejoin="round" />
<g clip-path="url(#sl63415p)">
<rect x="1360.3" y="300" width="40" height="200" fill="#8d8a86"/>
<line x1="1400.32" y1="300.00" x2="1400.32" y2="500.00" stroke="#242322" stroke-width="0.7" />
</g>
<path d="M1385.3,452.7 L1383.9,453.8 L1382.9,455.1 L1382.6,456.5 L1382.9,457.8 L1383.9,459.1 L1385.3,460.2 L1387.2,461.1 L1389.4,461.6 L1391.8,461.8 L1394.2,461.6 L1396.4,461.1 L1398.3,460.2 L1415.3,450.4 L1416.8,449.3 L1417.7,448.0 L1418.0,446.6 L1417.7,445.3 L1416.8,444.0 L1415.3,442.9 L1413.4,442.0 L1411.2,441.5 L1408.8,441.3 L1406.5,441.5 L1404.3,442.0 L1402.4,442.9 Z" fill="none" stroke="#242322" stroke-width="0.9" stroke-linejoin="round" />
<clipPath id="sl63447p"><path d="M1445.1,418.2 L1443.7,419.3 L1442.8,420.6 L1442.4,421.9 L1442.8,423.3 L1443.7,424.6 L1445.1,425.7 L1447.0,426.5 L1449.2,427.0 L1451.6,427.2 L1454.0,427.0 L1456.2,426.5 L1458.1,425.7 L1475.1,415.8 L1476.6,414.7 L1477.5,413.5 L1477.8,412.1 L1477.5,410.7 L1476.6,409.4 L1475.1,408.3 L1473.2,407.5 L1471.0,407.0 L1468.7,406.8 L1466.3,407.0 L1464.1,407.5 L1462.2,408.3 Z"/></clipPath>
<path d="M1445.1,418.2 L1443.7,419.3 L1442.8,420.6 L1442.4,421.9 L1442.8,423.3 L1443.7,424.6 L1445.1,425.7 L1447.0,426.5 L1449.2,427.0 L1451.6,427.2 L1454.0,427.0 L1456.2,426.5 L1458.1,425.7 L1475.1,415.8 L1476.6,414.7 L1477.5,413.5 L1477.8,412.1 L1477.5,410.7 L1476.6,409.4 L1475.1,408.3 L1473.2,407.5 L1471.0,407.0 L1468.7,406.8 L1466.3,407.0 L1464.1,407.5 L1462.2,408.3 Z" fill="#b7b4b0" stroke="#242322" stroke-width="0.9" stroke-linejoin="round" />
<g clip-path="url(#sl63447p)">
<rect x="1420.1" y="300" width="40" height="200" fill="#8d8a86"/>
<line x1="1460.13" y1="300.00" x2="1460.13" y2="500.00" stroke="#242322" stroke-width="0.7" />
</g>
<path d="M1445.1,418.2 L1443.7,419.3 L1442.8,420.6 L1442.4,421.9 L1442.8,423.3 L1443.7,424.6 L1445.1,425.7 L1447.0,426.5 L1449.2,427.0 L1451.6,427.2 L1454.0,427.0 L1456.2,426.5 L1458.1,425.7 L1475.1,415.8 L1476.6,414.7 L1477.5,413.5 L1477.8,412.1 L1477.5,410.7 L1476.6,409.4 L1475.1,408.3 L1473.2,407.5 L1471.0,407.0 L1468.7,406.8 L1466.3,407.0 L1464.1,407.5 L1462.2,408.3 Z" fill="none" stroke="#242322" stroke-width="0.9" stroke-linejoin="round" />
<path d="M1461,263 Q1467.5,281 1461.5,300 Z" fill="#3a3837" stroke="#242322" stroke-width="0.6"/>
<path d="M1168.0,163.9 L1334.0,259.8 L1334.0,450.1 L1380.6,477.0 L1380.6,490.6 L1121.3,340.9 L1121.3,327.3 L1168.0,354.2 Z" fill="url(#gFront)" stroke="#242322" stroke-width="0.9" stroke-linejoin="round" />
<path d="M1356.2,259.8 L1457.5,201.3 L1457.5,391.5 L1356.2,450.1 Z" fill="#9b9894" stroke="#242322" stroke-width="0.9" stroke-linejoin="round" />
<path d="M1334.0,259.8 L1337.2,261.2 L1341.0,262.2 L1345.1,262.5 L1349.2,262.2 L1353.0,261.2 L1356.2,259.8 L1356.2,450.1 L1353.0,451.5 L1349.2,452.4 L1345.1,452.7 L1341.0,452.4 L1337.2,451.5 L1334.0,450.1 Z" fill="url(#gCorF)" stroke="#242322" stroke-width="0.9" stroke-linejoin="round" />
<path d="M1163.3,157.5 L1163.5,158.7 L1163.9,159.9 L1164.5,161.0 L1165.5,162.1 L1166.6,163.0 L1168.0,163.9 L1168.0,354.2 L1166.6,353.3 L1165.5,352.3 L1164.5,351.2 L1163.9,350.1 L1163.5,348.9 L1163.3,347.8 Z" fill="url(#gCorL)" stroke="#242322" stroke-width="0.9" stroke-linejoin="round" />
<path d="M1457.5,201.3 L1458.9,200.4 L1460.0,199.4 L1460.9,198.4 L1461.6,197.2 L1462.0,196.1 L1462.1,194.9 L1462.1,385.1 L1462.0,386.3 L1461.6,387.5 L1460.9,388.6 L1460.0,389.7 L1458.9,390.7 L1457.5,391.5 Z" fill="url(#gCorR)" stroke="#242322" stroke-width="0.9" stroke-linejoin="round" />
<defs>
<linearGradient id="gFil" gradientUnits="userSpaceOnUse" x1="1407.5" y1="415.8" x2="1411.5" y2="422.8"><stop offset="0" stop-color="#aaa7a3"/><stop offset="0.5" stop-color="#f3f1ee"/><stop offset="1" stop-color="#e3e0dc"/></linearGradient>
</defs>
<path d="M1457.5,386.8 L1356.2,445.3 L1356.2,445.3 L1353.0,446.8 L1349.2,447.7 L1345.1,448.0 L1341.0,447.7 L1337.2,446.8 L1334.0,445.3 L1329.9,452.4 L1334.4,454.4 L1339.5,455.6 L1345.1,456.0 L1350.7,455.6 L1355.8,454.4 L1360.3,452.4 L1360.3,452.4 L1461.6,393.9 Z" fill="url(#gFil)" stroke="#242322" stroke-width="0.6" stroke-linejoin="round" />
<path d="M1168.0,349.5 L1164.8,346.9 L1163.3,343.1 L1157.6,347.8 L1159.6,353.0 L1168.0,354.2 Z" fill="#c9c6c2" stroke="#242322" stroke-width="0.5" stroke-linejoin="round" />
<clipPath id="pocket"><path d="M1193.0,157.2 L1191.5,158.3 L1190.5,159.6 L1190.2,161.0 L1190.5,162.5 L1191.5,163.8 L1193.0,164.9 L1332.3,245.4 L1334.3,246.2 L1336.5,246.8 L1339.0,247.0 L1341.4,246.8 L1343.7,246.2 L1345.7,245.4 L1432.5,195.2 L1434.0,194.1 L1435.0,192.8 L1435.3,191.3 L1435.0,189.9 L1434.0,188.6 L1432.5,187.5 L1293.2,107.0 L1291.2,106.2 L1288.9,105.6 L1286.5,105.4 L1284.1,105.6 L1281.8,106.2 L1279.8,107.0 Z"/></clipPath>
<g clip-path="url(#pocket)">
<path d="M1186.3,161.0 L1279.8,107.0 L1279.8,297.3 L1186.3,351.3 Z" fill="#8f8c88" stroke="#242322" stroke-width="0.9" stroke-linejoin="round" />
<path d="M1293.2,107.0 L1439.2,191.3 L1439.2,381.6 L1293.2,297.3 Z M1415.8,279.8 L1415.3,271.5 L1414.0,262.9 L1411.8,254.0 L1408.7,245.1 L1404.9,236.2 L1400.3,227.6 L1395.1,219.3 L1389.3,211.5 L1383.1,204.4 L1376.6,198.0 L1369.8,192.6 L1362.9,188.0 L1355.9,184.6 L1349.1,182.2 L1342.6,181.0 L1336.4,180.9 L1330.6,182.1 L1325.4,184.3 L1320.8,187.7 L1317.0,192.1 L1313.9,197.5 L1311.7,203.8 L1310.4,210.9 L1309.9,218.6 L1310.4,226.9 L1311.7,235.5 L1313.9,244.3 L1317.0,253.3 L1320.8,262.2 L1325.4,270.8 L1330.6,279.1 L1336.4,286.9 L1342.6,294.0 L1349.1,300.3 L1355.9,305.8 L1362.9,310.3 L1369.8,313.8 L1376.6,316.2 L1383.1,317.4 L1389.3,317.4 L1395.1,316.3 L1400.3,314.1 L1404.9,310.7 L1408.7,306.2 L1411.8,300.8 L1414.0,294.6 L1415.3,287.5 L1415.8,279.8 Z" fill="#5f5b59" fill-rule="evenodd" stroke="#242322" stroke-width="0.9"/>
<clipPath id="boreN"><path d="M1415.8,279.8 L1415.3,271.5 L1414.0,262.9 L1411.8,254.0 L1408.7,245.1 L1404.9,236.2 L1400.3,227.6 L1395.1,219.3 L1389.3,211.5 L1383.1,204.4 L1376.6,198.0 L1369.8,192.6 L1362.9,188.0 L1355.9,184.6 L1349.1,182.2 L1342.6,181.0 L1336.4,180.9 L1330.6,182.1 L1325.4,184.3 L1320.8,187.7 L1317.0,192.1 L1313.9,197.5 L1311.7,203.8 L1310.4,210.9 L1309.9,218.6 L1310.4,226.9 L1311.7,235.5 L1313.9,244.3 L1317.0,253.3 L1320.8,262.2 L1325.4,270.8 L1330.6,279.1 L1336.4,286.9 L1342.6,294.0 L1349.1,300.3 L1355.9,305.8 L1362.9,310.3 L1369.8,313.8 L1376.6,316.2 L1383.1,317.4 L1389.3,317.4 L1395.1,316.3 L1400.3,314.1 L1404.9,310.7 L1408.7,306.2 L1411.8,300.8 L1414.0,294.6 L1415.3,287.5 L1415.8,279.8 Z"/></clipPath>
<g clip-path="url(#boreN)">
<path d="M1415.8,279.8 L1415.3,271.5 L1414.0,262.9 L1411.8,254.0 L1408.7,245.1 L1404.9,236.2 L1400.3,227.6 L1395.1,219.3 L1389.3,211.5 L1383.1,204.4 L1376.6,198.0 L1369.8,192.6 L1362.9,188.0 L1355.9,184.6 L1349.1,182.2 L1342.6,181.0 L1336.4,180.9 L1330.6,182.1 L1325.4,184.3 L1320.8,187.7 L1317.0,192.1 L1313.9,197.5 L1311.7,203.8 L1310.4,210.9 L1309.9,218.6 L1310.4,226.9 L1311.7,235.5 L1313.9,244.3 L1317.0,253.3 L1320.8,262.2 L1325.4,270.8 L1330.6,279.1 L1336.4,286.9 L1342.6,294.0 L1349.1,300.3 L1355.9,305.8 L1362.9,310.3 L1369.8,313.8 L1376.6,316.2 L1383.1,317.4 L1389.3,317.4 L1395.1,316.3 L1400.3,314.1 L1404.9,310.7 L1408.7,306.2 L1411.8,300.8 L1414.0,294.6 L1415.3,287.5 L1415.8,279.8 Z" fill="url(#gBoreB)" stroke="#242322" stroke-width="0.9" stroke-linejoin="round" />
<path d="M1439.2,266.2 L1438.8,258.0 L1437.4,249.4 L1435.2,240.5 L1432.1,231.6 L1428.3,222.7 L1423.7,214.0 L1418.5,205.8 L1412.8,198.0 L1406.6,190.9 L1400.0,184.5 L1393.2,179.0 L1386.3,174.5 L1379.4,171.0 L1372.6,168.7 L1366.0,167.5 L1359.8,167.4 L1354.1,168.5 L1348.9,170.8 L1344.3,174.2 L1340.4,178.6 L1337.4,184.0 L1335.1,190.3 L1333.8,197.4 L1333.3,205.1 L1333.8,213.3 L1335.1,222.0 L1337.4,230.8 L1340.4,239.8 L1344.3,248.6 L1348.9,257.3 L1354.1,265.6 L1359.8,273.3 L1366.0,280.5 L1372.6,286.8 L1379.4,292.3 L1386.3,296.8 L1393.2,300.3 L1400.0,302.6 L1406.6,303.9 L1412.8,303.9 L1418.5,302.8 L1423.7,300.5 L1428.3,297.1 L1432.1,292.7 L1435.2,287.3 L1437.4,281.0 L1438.8,274.0 L1439.2,266.2 Z" fill="#ffffff" stroke="#242322" stroke-width="0.9" stroke-linejoin="round" />
</g>
<path d="M1415.8,279.8 L1415.3,271.5 L1414.0,262.9 L1411.8,254.0 L1408.7,245.1 L1404.9,236.2 L1400.3,227.6 L1395.1,219.3 L1389.3,211.5 L1383.1,204.4 L1376.6,198.0 L1369.8,192.6 L1362.9,188.0 L1355.9,184.6 L1349.1,182.2 L1342.6,181.0 L1336.4,180.9 L1330.6,182.1 L1325.4,184.3 L1320.8,187.7 L1317.0,192.1 L1313.9,197.5 L1311.7,203.8 L1310.4,210.9 L1309.9,218.6 L1310.4,226.9 L1311.7,235.5 L1313.9,244.3 L1317.0,253.3 L1320.8,262.2 L1325.4,270.8 L1330.6,279.1 L1336.4,286.9 L1342.6,294.0 L1349.1,300.3 L1355.9,305.8 L1362.9,310.3 L1369.8,313.8 L1376.6,316.2 L1383.1,317.4 L1389.3,317.4 L1395.1,316.3 L1400.3,314.1 L1404.9,310.7 L1408.7,306.2 L1411.8,300.8 L1414.0,294.6 L1415.3,287.5 L1415.8,279.8 Z" fill="none" stroke="#242322" stroke-width="0.9" stroke-linejoin="round" />
<path d="M1293.2,107.0 L1291.2,106.2 L1288.9,105.6 L1286.5,105.4 L1284.1,105.6 L1281.8,106.2 L1279.8,107.0 L1279.8,297.3 L1281.8,296.4 L1284.1,295.9 L1286.5,295.7 L1288.9,295.9 L1291.2,296.4 L1293.2,297.3 Z" fill="url(#gCorI)" stroke="#242322" stroke-width="0.9" stroke-linejoin="round" />
<path d="M1368.2,177.6 L1368.0,175.8 L1367.5,174.0 L1366.7,172.3 L1365.5,170.6 L1364.2,169.3 L1362.9,168.2 L1361.5,167.7 L1360.2,167.5 L1359.1,167.9 L1358.2,168.7 L1357.7,169.8 L1357.5,171.3 L1357.7,173.1 L1358.2,174.9 L1359.1,176.6 L1360.2,178.3 L1361.5,179.6 L1362.9,180.7 L1364.2,181.3 L1365.5,181.4 L1366.7,181.0 L1367.5,180.2 L1368.0,179.1 L1368.2,177.6 Z" fill="#dedbd7" stroke="#242322" stroke-width="0.6" stroke-linejoin="round" />
<path d="M1322.5,173.0 L1322.3,171.3 L1321.7,169.5 L1320.9,167.7 L1319.8,166.1 L1318.5,164.7 L1317.1,163.7 L1315.7,163.1 L1314.4,163.0 L1313.3,163.3 L1312.4,164.1 L1311.9,165.3 L1311.7,166.8 L1311.9,168.5 L1312.4,170.3 L1313.3,172.1 L1314.4,173.7 L1315.7,175.1 L1317.1,176.1 L1318.5,176.7 L1319.8,176.8 L1320.9,176.5 L1321.7,175.7 L1322.3,174.5 L1322.5,173.0 Z" fill="#dedbd7" stroke="#242322" stroke-width="0.6" stroke-linejoin="round" />
<path d="M1303.5,214.9 L1303.3,213.2 L1302.8,211.4 L1301.9,209.6 L1300.8,208.0 L1299.5,206.6 L1298.1,205.6 L1296.7,205.0 L1295.4,204.9 L1294.3,205.2 L1293.5,206.0 L1292.9,207.2 L1292.8,208.7 L1292.9,210.4 L1293.5,212.2 L1294.3,214.0 L1295.4,215.6 L1296.7,217.0 L1298.1,218.0 L1299.5,218.6 L1300.8,218.7 L1301.9,218.4 L1302.8,217.6 L1303.3,216.4 L1303.5,214.9 Z" fill="#dedbd7" stroke="#242322" stroke-width="0.6" stroke-linejoin="round" />
<path d="M1414.0,225.9 L1413.8,224.2 L1413.3,222.4 L1412.4,220.6 L1411.3,218.9 L1410.0,217.6 L1408.6,216.6 L1407.2,216.0 L1405.9,215.8 L1404.8,216.2 L1404.0,217.0 L1403.4,218.2 L1403.2,219.7 L1403.4,221.4 L1404.0,223.2 L1404.8,225.0 L1405.9,226.6 L1407.2,228.0 L1408.6,229.0 L1410.0,229.6 L1411.3,229.7 L1412.4,229.4 L1413.3,228.6 L1413.8,227.4 L1414.0,225.9 Z" fill="#dedbd7" stroke="#242322" stroke-width="0.6" stroke-linejoin="round" />
<path d="M1249.9,165.1 L1249.8,163.1 L1249.5,161.3 L1248.9,159.7 L1248.1,158.3 L1247.1,157.2 L1246.0,156.3 L1244.6,155.7 L1243.2,155.4 L1241.6,155.5 L1239.9,155.8 L1238.2,156.4 L1236.4,157.3 L1234.6,158.4 L1232.9,159.8 L1231.2,161.4 L1229.6,163.3 L1228.2,165.2 L1226.8,167.4 L1225.7,169.6 L1224.7,171.8 L1223.9,174.1 L1223.3,176.4 L1223.0,178.6 L1222.9,180.7 L1223.0,182.7 L1223.3,184.5 L1223.9,186.1 L1224.7,187.5 L1225.7,188.6 L1226.8,189.4 L1228.2,190.0 L1229.6,190.3 L1231.2,190.3 L1232.9,190.0 L1234.6,189.4 L1236.4,188.5 L1238.2,187.3 L1239.9,185.9 L1241.6,184.3 L1243.2,182.5 L1244.6,180.5 L1246.0,178.4 L1247.1,176.2 L1248.1,173.9 L1248.9,171.6 L1249.5,169.4 L1249.8,167.2 L1249.9,165.1 Z" fill="url(#gHoleL)" stroke="#242322" stroke-width="0.9" stroke-linejoin="round" />
</g>
<path d="M1168.0,151.1 L1165.5,153.0 L1163.9,155.2 L1163.3,157.5 L1163.9,159.9 L1165.5,162.1 L1168.0,163.9 L1334.0,259.8 L1337.2,261.2 L1341.0,262.2 L1345.1,262.5 L1349.2,262.2 L1353.0,261.2 L1356.2,259.8 L1457.5,201.3 L1460.0,199.4 L1461.6,197.2 L1462.1,194.9 L1461.6,192.5 L1460.0,190.3 L1457.5,188.5 L1291.5,92.6 L1288.3,91.1 L1284.5,90.2 L1280.4,89.9 L1276.3,90.2 L1272.5,91.1 L1269.3,92.6 Z M1193.0,157.2 L1191.5,158.3 L1190.5,159.6 L1190.2,161.0 L1190.5,162.5 L1191.5,163.8 L1193.0,164.9 L1332.3,245.4 L1334.3,246.2 L1336.5,246.8 L1339.0,247.0 L1341.4,246.8 L1343.7,246.2 L1345.7,245.4 L1432.5,195.2 L1434.0,194.1 L1435.0,192.8 L1435.3,191.3 L1435.0,189.9 L1434.0,188.6 L1432.5,187.5 L1293.2,107.0 L1291.2,106.2 L1288.9,105.6 L1286.5,105.4 L1284.1,105.6 L1281.8,106.2 L1279.8,107.0 Z" fill="#e3e0dc" fill-rule="evenodd" stroke="#242322" stroke-width="0.9" stroke-linejoin="round"/>
<path d="M1184.9,160.3 L1185.9,159.6 L1186.5,158.7 L1186.7,157.8 L1186.5,156.8 L1185.9,156.0 L1184.9,155.2 L1183.6,154.6 L1182.1,154.3 L1180.5,154.2 L1178.8,154.3 L1177.3,154.6 L1176.0,155.2 L1175.0,156.0 L1174.4,156.8 L1174.2,157.8 L1174.4,158.7 L1175.0,159.6 L1176.0,160.3 L1177.3,160.9 L1178.8,161.3 L1180.5,161.4 L1182.1,161.3 L1183.6,160.9 L1184.9,160.3 Z" fill="#d0cdc9" stroke="#242322" stroke-width="0.6" stroke-linejoin="round" />
<path d="M1183.0,159.2 L1183.7,158.6 L1184.0,157.8 L1183.7,157.0 L1183.0,156.3 L1181.8,155.9 L1180.5,155.7 L1179.1,155.9 L1178.0,156.3 L1177.2,157.0 L1176.9,157.8 L1177.2,158.6 L1178.0,159.2 L1179.1,159.7 L1180.5,159.8 L1181.8,159.7 L1183.0,159.2 Z" fill="#a9a6a2" stroke="#242322" stroke-width="0.6" stroke-linejoin="round" />
<path d="M1285.3,102.4 L1286.3,101.6 L1287.0,100.7 L1287.2,99.8 L1287.0,98.8 L1286.3,98.0 L1285.3,97.2 L1284.0,96.6 L1282.5,96.3 L1280.9,96.2 L1279.3,96.3 L1277.7,96.6 L1276.4,97.2 L1275.4,98.0 L1274.8,98.8 L1274.6,99.8 L1274.8,100.7 L1275.4,101.6 L1276.4,102.4 L1277.7,102.9 L1279.3,103.3 L1280.9,103.4 L1282.5,103.3 L1284.0,102.9 L1285.3,102.4 Z" fill="#d0cdc9" stroke="#242322" stroke-width="0.6" stroke-linejoin="round" />
<path d="M1283.4,101.2 L1284.2,100.6 L1284.4,99.8 L1284.2,99.0 L1283.4,98.3 L1282.2,97.9 L1280.9,97.7 L1279.5,97.9 L1278.4,98.3 L1277.6,99.0 L1277.4,99.8 L1277.6,100.6 L1278.4,101.2 L1279.5,101.7 L1280.9,101.8 L1282.2,101.7 L1283.4,101.2 Z" fill="#a9a6a2" stroke="#242322" stroke-width="0.6" stroke-linejoin="round" />
<path d="M1349.1,255.2 L1350.1,254.4 L1350.7,253.5 L1350.9,252.6 L1350.7,251.6 L1350.1,250.8 L1349.1,250.0 L1347.8,249.4 L1346.3,249.1 L1344.6,249.0 L1343.0,249.1 L1341.5,249.4 L1340.2,250.0 L1339.2,250.8 L1338.6,251.6 L1338.3,252.6 L1338.6,253.5 L1339.2,254.4 L1340.2,255.2 L1341.5,255.7 L1343.0,256.1 L1344.6,256.2 L1346.3,256.1 L1347.8,255.7 L1349.1,255.2 Z" fill="#d0cdc9" stroke="#242322" stroke-width="0.6" stroke-linejoin="round" />
<path d="M1347.1,254.0 L1347.9,253.4 L1348.2,252.6 L1347.9,251.8 L1347.1,251.1 L1346.0,250.7 L1344.6,250.5 L1343.3,250.7 L1342.1,251.1 L1341.4,251.8 L1341.1,252.6 L1341.4,253.4 L1342.1,254.0 L1343.3,254.5 L1344.6,254.6 L1346.0,254.5 L1347.1,254.0 Z" fill="#a9a6a2" stroke="#242322" stroke-width="0.6" stroke-linejoin="round" />
<path d="M1449.5,197.2 L1450.5,196.4 L1451.1,195.5 L1451.4,194.6 L1451.1,193.7 L1450.5,192.8 L1449.5,192.0 L1448.2,191.4 L1446.7,191.1 L1445.1,191.0 L1443.4,191.1 L1441.9,191.4 L1440.6,192.0 L1439.6,192.8 L1439.0,193.7 L1438.8,194.6 L1439.0,195.5 L1439.6,196.4 L1440.6,197.2 L1441.9,197.7 L1443.4,198.1 L1445.1,198.2 L1446.7,198.1 L1448.2,197.7 L1449.5,197.2 Z" fill="#d0cdc9" stroke="#242322" stroke-width="0.6" stroke-linejoin="round" />
<path d="M1447.6,196.0 L1448.3,195.4 L1448.6,194.6 L1448.3,193.8 L1447.6,193.1 L1446.4,192.7 L1445.1,192.5 L1443.7,192.7 L1442.6,193.1 L1441.8,193.8 L1441.5,194.6 L1441.8,195.4 L1442.6,196.0 L1443.7,196.5 L1445.1,196.6 L1446.4,196.5 L1447.6,196.0 Z" fill="#a9a6a2" stroke="#242322" stroke-width="0.6" stroke-linejoin="round" />
<path d="M1168.6,266.2 L1168.9,258.1 L1169.8,250.4 L1171.4,243.2 L1173.6,236.6 L1176.3,230.5 L1179.6,225.1 L1183.5,220.3 L1187.9,216.2 L1192.7,212.9 L1198.0,210.4 L1203.7,208.6 L1209.8,207.6 L1216.2,207.5 L1222.8,208.2 L1229.7,209.6 L1236.7,211.9 L1243.8,214.9 L1251.0,218.7 L1258.2,223.2 L1265.3,228.4 L1272.3,234.2 L1279.1,240.7 L1285.8,247.7 L1292.2,255.2 L1298.2,263.2 L1303.9,271.5 L1309.2,280.2 L1314.1,289.1 L1318.4,298.2 L1322.3,307.4 L1325.6,316.7 L1328.4,326.0 L1330.5,335.1 L1332.1,344.1 L1333.0,352.9 L1333.3,361.4 L1333.0,369.5 L1332.1,377.2 L1330.5,384.4 L1328.4,391.0 L1325.6,397.1 L1322.3,402.6 L1318.4,407.3 L1314.1,411.4 L1309.2,414.7 L1303.9,417.2 L1298.2,419.0 L1292.2,420.0 L1285.8,420.1 L1279.1,419.4 L1272.3,418.0 L1265.3,415.7 L1258.2,412.7 L1251.0,408.9 L1245.3,405.6 L1238.6,401.4 L1232.0,396.5 L1225.5,391.1 L1219.1,385.1 L1212.9,378.6 L1207.0,371.6 L1201.4,364.2 L1196.1,356.4 L1191.1,348.4 L1186.6,340.1 L1182.5,331.6 L1179.0,323.0 L1175.9,314.4 L1173.3,305.8 L1171.3,297.2 L1169.9,288.9 L1169.0,280.7 L1168.7,272.8 Z" fill="url(#gFlFil)" stroke="#242322" stroke-width="0.9" stroke-linejoin="round" />
<path d="M1162.6,276.4 L1162.9,268.8 L1163.7,261.6 L1165.2,254.9 L1167.2,248.8 L1169.8,243.1 L1172.8,238.0 L1176.4,233.6 L1180.5,229.8 L1185.0,226.7 L1191.1,223.2 L1196.1,220.8 L1201.4,219.2 L1207.0,218.3 L1212.9,218.2 L1219.1,218.8 L1225.5,220.1 L1232.0,222.2 L1238.6,225.1 L1245.3,228.6 L1252.0,232.8 L1258.6,237.6 L1265.2,243.0 L1271.5,249.0 L1277.7,255.6 L1283.6,262.6 L1289.3,269.9 L1294.6,277.7 L1299.5,285.8 L1304.0,294.1 L1308.1,302.6 L1311.7,311.1 L1314.8,319.8 L1317.3,328.4 L1319.3,336.9 L1320.8,345.3 L1321.6,353.4 L1321.9,361.3 L1321.6,368.9 L1320.8,376.0 L1319.3,382.7 L1317.3,388.9 L1314.8,394.6 L1311.7,399.6 L1308.1,404.1 L1304.0,407.8 L1299.5,410.9 L1293.4,414.4 L1288.5,416.8 L1283.2,418.5 L1277.5,419.4 L1271.6,419.5 L1265.4,418.9 L1259.0,417.5 L1252.5,415.4 L1245.9,412.6 L1239.2,409.1 L1232.5,404.9 L1225.9,400.1 L1219.4,394.6 L1213.0,388.6 L1206.8,382.1 L1200.9,375.1 L1195.2,367.7 L1190.0,359.9 L1185.0,351.9 L1180.5,343.6 L1176.4,335.1 L1172.8,326.5 L1169.8,317.9 L1167.2,309.3 L1165.2,300.8 L1163.7,292.4 L1162.9,284.2 Z" fill="url(#gFlSide)" stroke="#242322" stroke-width="0.9" stroke-linejoin="round" />
<path d="M1315.8,364.8 L1315.5,357.0 L1314.7,348.8 L1313.2,340.4 L1311.2,331.9 L1308.6,323.3 L1305.6,314.7 L1302.0,306.1 L1297.9,297.6 L1293.4,289.3 L1288.5,281.2 L1283.1,273.5 L1277.5,266.1 L1271.6,259.1 L1265.4,252.6 L1259.0,246.6 L1252.5,241.1 L1245.9,236.3 L1239.2,232.1 L1232.5,228.6 L1225.9,225.8 L1219.4,223.7 L1213.0,222.3 L1206.8,221.7 L1200.9,221.8 L1195.3,222.7 L1189.9,224.4 L1185.0,226.7 L1180.5,229.8 L1176.4,233.6 L1172.8,238.0 L1169.8,243.1 L1167.2,248.8 L1165.2,255.0 L1163.7,261.7 L1162.9,268.8 L1162.6,276.3 L1162.9,284.2 L1163.7,292.4 L1165.2,300.8 L1167.2,309.3 L1169.8,317.9 L1172.8,326.5 L1176.4,335.1 L1180.5,343.6 L1185.0,351.9 L1189.9,359.9 L1195.3,367.7 L1200.9,375.1 L1206.8,382.1 L1213.0,388.6 L1219.4,394.6 L1225.9,400.1 L1232.5,404.9 L1239.2,409.1 L1245.9,412.6 L1252.5,415.4 L1259.0,417.5 L1265.4,418.9 L1271.6,419.5 L1277.5,419.3 L1283.1,418.5 L1288.5,416.8 L1293.4,414.4 L1297.9,411.4 L1302.0,407.6 L1305.6,403.2 L1308.6,398.1 L1311.2,392.4 L1313.2,386.2 L1314.7,379.5 L1315.5,372.4 L1315.8,364.8 Z" fill="#5f5b59" stroke="#242322" stroke-width="0.9" stroke-linejoin="round" />
<clipPath id="boreFc"><path d="M1292.1,351.2 L1291.9,345.0 L1291.1,338.7 L1289.9,332.1 L1288.1,325.4 L1285.9,318.7 L1283.2,312.0 L1280.1,305.4 L1276.6,299.0 L1272.8,292.7 L1268.6,286.7 L1264.2,281.1 L1259.5,275.8 L1254.6,271.0 L1249.5,266.6 L1244.4,262.7 L1239.2,259.4 L1234.0,256.7 L1228.9,254.7 L1223.8,253.2 L1218.9,252.4 L1214.2,252.3 L1209.8,252.8 L1205.6,253.9 L1201.8,255.7 L1198.3,258.2 L1195.2,261.2 L1192.5,264.8 L1190.3,268.9 L1188.5,273.6 L1187.3,278.7 L1186.5,284.2 L1186.3,290.0 L1186.5,296.2 L1187.3,302.5 L1188.5,309.1 L1190.3,315.7 L1192.5,322.5 L1195.2,329.1 L1198.3,335.8 L1201.8,342.2 L1205.6,348.5 L1209.8,354.5 L1214.2,360.1 L1218.9,365.4 L1223.8,370.2 L1228.9,374.6 L1234.0,378.5 L1239.2,381.7 L1244.4,384.4 L1249.5,386.5 L1254.6,388.0 L1259.5,388.8 L1264.2,388.9 L1268.6,388.4 L1272.8,387.3 L1276.6,385.5 L1280.1,383.0 L1283.2,380.0 L1285.9,376.4 L1288.1,372.2 L1289.9,367.6 L1291.1,362.5 L1291.9,357.0 L1292.1,351.2 Z"/></clipPath>
<path d="M1292.1,351.2 L1291.9,345.0 L1291.1,338.7 L1289.9,332.1 L1288.1,325.4 L1285.9,318.7 L1283.2,312.0 L1280.1,305.4 L1276.6,299.0 L1272.8,292.7 L1268.6,286.7 L1264.2,281.1 L1259.5,275.8 L1254.6,271.0 L1249.5,266.6 L1244.4,262.7 L1239.2,259.4 L1234.0,256.7 L1228.9,254.7 L1223.8,253.2 L1218.9,252.4 L1214.2,252.3 L1209.8,252.8 L1205.6,253.9 L1201.8,255.7 L1198.3,258.2 L1195.2,261.2 L1192.5,264.8 L1190.3,268.9 L1188.5,273.6 L1187.3,278.7 L1186.5,284.2 L1186.3,290.0 L1186.5,296.2 L1187.3,302.5 L1188.5,309.1 L1190.3,315.7 L1192.5,322.5 L1195.2,329.1 L1198.3,335.8 L1201.8,342.2 L1205.6,348.5 L1209.8,354.5 L1214.2,360.1 L1218.9,365.4 L1223.8,370.2 L1228.9,374.6 L1234.0,378.5 L1239.2,381.7 L1244.4,384.4 L1249.5,386.5 L1254.6,388.0 L1259.5,388.8 L1264.2,388.9 L1268.6,388.4 L1272.8,387.3 L1276.6,385.5 L1280.1,383.0 L1283.2,380.0 L1285.9,376.4 L1288.1,372.2 L1289.9,367.6 L1291.1,362.5 L1291.9,357.0 L1292.1,351.2 Z" fill="url(#gBore)" stroke="#242322" stroke-width="0.9" stroke-linejoin="round" />
<g clip-path="url(#boreFc)">
<clipPath id="boreBc"><path d="M1315.6,337.6 L1315.3,331.5 L1314.6,325.1 L1313.3,318.6 L1311.6,311.9 L1309.3,305.2 L1306.7,298.5 L1303.6,291.9 L1300.1,285.4 L1296.2,279.2 L1292.1,273.2 L1287.6,267.5 L1282.9,262.3 L1278.0,257.4 L1273.0,253.0 L1267.8,249.2 L1262.6,245.9 L1257.5,243.2 L1252.3,241.1 L1247.3,239.7 L1242.4,238.9 L1237.7,238.7 L1233.2,239.2 L1229.0,240.4 L1225.2,242.2 L1221.7,244.6 L1218.6,247.7 L1215.9,251.3 L1213.7,255.4 L1212.0,260.0 L1210.7,265.1 L1209.9,270.6 L1209.7,276.5 L1209.9,282.6 L1210.7,289.0 L1212.0,295.6 L1213.7,302.2 L1215.9,308.9 L1218.6,315.6 L1221.7,322.2 L1225.2,328.7 L1229.0,334.9 L1233.2,340.9 L1237.7,346.6 L1242.4,351.9 L1247.3,356.7 L1252.3,361.1 L1257.5,364.9 L1262.6,368.2 L1267.8,370.9 L1273.0,373.0 L1278.0,374.5 L1282.9,375.3 L1287.6,375.4 L1292.1,374.9 L1296.2,373.7 L1300.1,371.9 L1303.6,369.5 L1306.7,366.5 L1309.3,362.8 L1311.6,358.7 L1313.3,354.1 L1314.6,349.0 L1315.3,343.5 L1315.6,337.6 Z"/></clipPath>
<g clip-path="url(#boreBc)">
<path d="M1107.3,396.9 L1385.2,236.4 L1385.2,46.2 L1107.3,206.7 Z" fill="#908d89" stroke="#242322" stroke-width="0" stroke-linejoin="round" />
<path d="M1107.3,396.9 L1385.2,236.4 L1609.8,366.1 L1331.9,526.6 Z" fill="#dcd9d5" stroke="#242322" stroke-width="0" stroke-linejoin="round" />
<line x1="1107.27" y1="396.93" x2="1385.22" y2="236.43" stroke="#242322" stroke-width="0.7" />
</g>
<path d="M1315.6,337.6 L1315.3,331.5 L1314.6,325.1 L1313.3,318.6 L1311.6,311.9 L1309.3,305.2 L1306.7,298.5 L1303.6,291.9 L1300.1,285.4 L1296.2,279.2 L1292.1,273.2 L1287.6,267.5 L1282.9,262.3 L1278.0,257.4 L1273.0,253.0 L1267.8,249.2 L1262.6,245.9 L1257.5,243.2 L1252.3,241.1 L1247.3,239.7 L1242.4,238.9 L1237.7,238.7 L1233.2,239.2 L1229.0,240.4 L1225.2,242.2 L1221.7,244.6 L1218.6,247.7 L1215.9,251.3 L1213.7,255.4 L1212.0,260.0 L1210.7,265.1 L1209.9,270.6 L1209.7,276.5 L1209.9,282.6 L1210.7,289.0 L1212.0,295.6 L1213.7,302.2 L1215.9,308.9 L1218.6,315.6 L1221.7,322.2 L1225.2,328.7 L1229.0,334.9 L1233.2,340.9 L1237.7,346.6 L1242.4,351.9 L1247.3,356.7 L1252.3,361.1 L1257.5,364.9 L1262.6,368.2 L1267.8,370.9 L1273.0,373.0 L1278.0,374.5 L1282.9,375.3 L1287.6,375.4 L1292.1,374.9 L1296.2,373.7 L1300.1,371.9 L1303.6,369.5 L1306.7,366.5 L1309.3,362.8 L1311.6,358.7 L1313.3,354.1 L1314.6,349.0 L1315.3,343.5 L1315.6,337.6 Z" fill="none" stroke="#242322" stroke-width="0.9" stroke-linejoin="round" />
</g>
<path d="M1292.1,351.2 L1291.9,345.0 L1291.1,338.7 L1289.9,332.1 L1288.1,325.4 L1285.9,318.7 L1283.2,312.0 L1280.1,305.4 L1276.6,299.0 L1272.8,292.7 L1268.6,286.7 L1264.2,281.1 L1259.5,275.8 L1254.6,271.0 L1249.5,266.6 L1244.4,262.7 L1239.2,259.4 L1234.0,256.7 L1228.9,254.7 L1223.8,253.2 L1218.9,252.4 L1214.2,252.3 L1209.8,252.8 L1205.6,253.9 L1201.8,255.7 L1198.3,258.2 L1195.2,261.2 L1192.5,264.8 L1190.3,268.9 L1188.5,273.6 L1187.3,278.7 L1186.5,284.2 L1186.3,290.0 L1186.5,296.2 L1187.3,302.5 L1188.5,309.1 L1190.3,315.7 L1192.5,322.5 L1195.2,329.1 L1198.3,335.8 L1201.8,342.2 L1205.6,348.5 L1209.8,354.5 L1214.2,360.1 L1218.9,365.4 L1223.8,370.2 L1228.9,374.6 L1234.0,378.5 L1239.2,381.7 L1244.4,384.4 L1249.5,386.5 L1254.6,388.0 L1259.5,388.8 L1264.2,388.9 L1268.6,388.4 L1272.8,387.3 L1276.6,385.5 L1280.1,383.0 L1283.2,380.0 L1285.9,376.4 L1288.1,372.2 L1289.9,367.6 L1291.1,362.5 L1291.9,357.0 L1292.1,351.2 Z" fill="none" stroke="#242322" stroke-width="0.9" stroke-linejoin="round" />
<path d="M1311.0,362.0 L1310.7,359.8 L1310.0,357.4 L1308.9,355.1 L1307.4,353.0 L1305.7,351.2 L1303.9,349.8 L1302.1,349.1 L1300.4,348.9 L1298.9,349.3 L1297.8,350.4 L1297.1,351.9 L1296.9,353.9 L1297.1,356.1 L1297.8,358.5 L1298.9,360.8 L1300.4,363.0 L1302.1,364.8 L1303.9,366.1 L1305.7,366.9 L1307.4,367.0 L1308.9,366.6 L1310.0,365.6 L1310.7,364.0 L1311.0,362.0 Z" fill="#a5a29e" stroke="#242322" stroke-width="0.8" stroke-linejoin="round" />
<clipPath id="bh0"><path d="M1311.0,362.0 L1310.7,359.8 L1310.0,357.4 L1308.9,355.1 L1307.4,353.0 L1305.7,351.2 L1303.9,349.8 L1302.1,349.1 L1300.4,348.9 L1298.9,349.3 L1297.8,350.4 L1297.1,351.9 L1296.9,353.9 L1297.1,356.1 L1297.8,358.5 L1298.9,360.8 L1300.4,363.0 L1302.1,364.8 L1303.9,366.1 L1305.7,366.9 L1307.4,367.0 L1308.9,366.6 L1310.0,365.6 L1310.7,364.0 L1311.0,362.0 Z"/></clipPath>
<g clip-path="url(#bh0)">
<path d="M1312.8,360.1 L1312.6,358.5 L1312.1,356.8 L1311.3,355.2 L1310.3,353.7 L1309.1,352.4 L1307.8,351.4 L1306.5,350.9 L1305.3,350.8 L1304.3,351.1 L1303.5,351.8 L1303.0,352.9 L1302.8,354.3 L1303.0,355.9 L1303.5,357.6 L1304.3,359.3 L1305.3,360.8 L1306.5,362.0 L1307.8,363.0 L1309.1,363.5 L1310.3,363.7 L1311.3,363.3 L1312.1,362.6 L1312.6,361.5 L1312.8,360.1 Z" fill="#ebe9e6" stroke="#6c6966" stroke-width="0.5" stroke-linejoin="round" />
</g>
<path d="M1292.0,298.2 L1291.8,296.0 L1291.1,293.6 L1289.9,291.3 L1288.5,289.2 L1286.8,287.4 L1285.0,286.0 L1283.1,285.3 L1281.4,285.1 L1280.0,285.5 L1278.9,286.6 L1278.2,288.1 L1277.9,290.1 L1278.2,292.3 L1278.9,294.7 L1280.0,297.0 L1281.4,299.2 L1283.1,301.0 L1285.0,302.3 L1286.8,303.1 L1288.5,303.2 L1289.9,302.8 L1291.1,301.8 L1291.8,300.2 L1292.0,298.2 Z" fill="#a5a29e" stroke="#242322" stroke-width="0.8" stroke-linejoin="round" />
<clipPath id="bh1"><path d="M1292.0,298.2 L1291.8,296.0 L1291.1,293.6 L1289.9,291.3 L1288.5,289.2 L1286.8,287.4 L1285.0,286.0 L1283.1,285.3 L1281.4,285.1 L1280.0,285.5 L1278.9,286.6 L1278.2,288.1 L1277.9,290.1 L1278.2,292.3 L1278.9,294.7 L1280.0,297.0 L1281.4,299.2 L1283.1,301.0 L1285.0,302.3 L1286.8,303.1 L1288.5,303.2 L1289.9,302.8 L1291.1,301.8 L1291.8,300.2 L1292.0,298.2 Z"/></clipPath>
<g clip-path="url(#bh1)">
<path d="M1293.9,296.3 L1293.7,294.7 L1293.2,293.0 L1292.4,291.4 L1291.4,289.9 L1290.1,288.6 L1288.9,287.6 L1287.6,287.1 L1286.4,287.0 L1285.3,287.3 L1284.5,288.0 L1284.0,289.1 L1283.8,290.5 L1284.0,292.1 L1284.5,293.8 L1285.3,295.5 L1286.4,297.0 L1287.6,298.3 L1288.9,299.2 L1290.1,299.7 L1291.4,299.9 L1292.4,299.5 L1293.2,298.8 L1293.7,297.7 L1293.9,296.3 Z" fill="#ebe9e6" stroke="#6c6966" stroke-width="0.5" stroke-linejoin="round" />
</g>
<path d="M1246.2,249.9 L1246.0,247.7 L1245.3,245.3 L1244.2,243.0 L1242.7,240.8 L1241.0,239.1 L1239.2,237.7 L1237.4,236.9 L1235.7,236.8 L1234.2,237.2 L1233.1,238.3 L1232.4,239.8 L1232.2,241.8 L1232.4,244.0 L1233.1,246.4 L1234.2,248.7 L1235.7,250.9 L1237.4,252.7 L1239.2,254.0 L1241.0,254.8 L1242.7,254.9 L1244.2,254.5 L1245.3,253.4 L1246.0,251.9 L1246.2,249.9 Z" fill="#a5a29e" stroke="#242322" stroke-width="0.8" stroke-linejoin="round" />
<clipPath id="bh2"><path d="M1246.2,249.9 L1246.0,247.7 L1245.3,245.3 L1244.2,243.0 L1242.7,240.8 L1241.0,239.1 L1239.2,237.7 L1237.4,236.9 L1235.7,236.8 L1234.2,237.2 L1233.1,238.3 L1232.4,239.8 L1232.2,241.8 L1232.4,244.0 L1233.1,246.4 L1234.2,248.7 L1235.7,250.9 L1237.4,252.7 L1239.2,254.0 L1241.0,254.8 L1242.7,254.9 L1244.2,254.5 L1245.3,253.4 L1246.0,251.9 L1246.2,249.9 Z"/></clipPath>
<g clip-path="url(#bh2)">
<path d="M1248.1,248.0 L1247.9,246.4 L1247.4,244.7 L1246.6,243.1 L1245.6,241.5 L1244.4,240.3 L1243.1,239.3 L1241.8,238.8 L1240.6,238.7 L1239.6,239.0 L1238.8,239.7 L1238.3,240.8 L1238.1,242.2 L1238.3,243.8 L1238.8,245.5 L1239.6,247.1 L1240.6,248.7 L1241.8,249.9 L1243.1,250.9 L1244.4,251.4 L1245.6,251.6 L1246.6,251.2 L1247.4,250.5 L1247.9,249.4 L1248.1,248.0 Z" fill="#ebe9e6" stroke="#6c6966" stroke-width="0.5" stroke-linejoin="round" />
</g>
<path d="M1200.5,245.4 L1200.2,243.1 L1199.5,240.8 L1198.4,238.4 L1197.0,236.3 L1195.3,234.5 L1193.4,233.2 L1191.6,232.4 L1189.9,232.2 L1188.5,232.7 L1187.3,233.7 L1186.6,235.3 L1186.4,237.3 L1186.6,239.5 L1187.3,241.9 L1188.5,244.2 L1189.9,246.3 L1191.6,248.1 L1193.4,249.5 L1195.3,250.2 L1197.0,250.4 L1198.4,249.9 L1199.5,248.9 L1200.2,247.4 L1200.5,245.4 Z" fill="#a5a29e" stroke="#242322" stroke-width="0.8" stroke-linejoin="round" />
<clipPath id="bh3"><path d="M1200.5,245.4 L1200.2,243.1 L1199.5,240.8 L1198.4,238.4 L1197.0,236.3 L1195.3,234.5 L1193.4,233.2 L1191.6,232.4 L1189.9,232.2 L1188.5,232.7 L1187.3,233.7 L1186.6,235.3 L1186.4,237.3 L1186.6,239.5 L1187.3,241.9 L1188.5,244.2 L1189.9,246.3 L1191.6,248.1 L1193.4,249.5 L1195.3,250.2 L1197.0,250.4 L1198.4,249.9 L1199.5,248.9 L1200.2,247.4 L1200.5,245.4 Z"/></clipPath>
<g clip-path="url(#bh3)">
<path d="M1202.3,243.5 L1202.2,241.9 L1201.7,240.2 L1200.9,238.5 L1199.8,237.0 L1198.6,235.7 L1197.3,234.8 L1196.0,234.2 L1194.8,234.1 L1193.8,234.4 L1193.0,235.2 L1192.5,236.3 L1192.3,237.7 L1192.5,239.3 L1193.0,241.0 L1193.8,242.6 L1194.8,244.1 L1196.0,245.4 L1197.3,246.3 L1198.6,246.9 L1199.8,247.0 L1200.9,246.7 L1201.7,246.0 L1202.2,244.9 L1202.3,243.5 Z" fill="#ebe9e6" stroke="#6c6966" stroke-width="0.5" stroke-linejoin="round" />
</g>
<path d="M1181.5,287.3 L1181.3,285.0 L1180.6,282.7 L1179.5,280.3 L1178.0,278.2 L1176.3,276.4 L1174.5,275.1 L1172.7,274.3 L1171.0,274.1 L1169.5,274.6 L1168.4,275.6 L1167.7,277.2 L1167.4,279.2 L1167.7,281.4 L1168.4,283.8 L1169.5,286.1 L1171.0,288.2 L1172.7,290.0 L1174.5,291.4 L1176.3,292.1 L1178.0,292.3 L1179.5,291.8 L1180.6,290.8 L1181.3,289.3 L1181.5,287.3 Z" fill="#a5a29e" stroke="#242322" stroke-width="0.8" stroke-linejoin="round" />
<clipPath id="bh4"><path d="M1181.5,287.3 L1181.3,285.0 L1180.6,282.7 L1179.5,280.3 L1178.0,278.2 L1176.3,276.4 L1174.5,275.1 L1172.7,274.3 L1171.0,274.1 L1169.5,274.6 L1168.4,275.6 L1167.7,277.2 L1167.4,279.2 L1167.7,281.4 L1168.4,283.8 L1169.5,286.1 L1171.0,288.2 L1172.7,290.0 L1174.5,291.4 L1176.3,292.1 L1178.0,292.3 L1179.5,291.8 L1180.6,290.8 L1181.3,289.3 L1181.5,287.3 Z"/></clipPath>
<g clip-path="url(#bh4)">
<path d="M1183.4,285.4 L1183.2,283.8 L1182.7,282.1 L1181.9,280.4 L1180.9,278.9 L1179.7,277.6 L1178.4,276.7 L1177.1,276.1 L1175.9,276.0 L1174.8,276.3 L1174.0,277.1 L1173.5,278.2 L1173.4,279.6 L1173.5,281.2 L1174.0,282.9 L1174.8,284.5 L1175.9,286.0 L1177.1,287.3 L1178.4,288.3 L1179.7,288.8 L1180.9,288.9 L1181.9,288.6 L1182.7,287.9 L1183.2,286.8 L1183.4,285.4 Z" fill="#ebe9e6" stroke="#6c6966" stroke-width="0.5" stroke-linejoin="round" />
</g>
<path d="M1200.5,351.1 L1200.2,348.8 L1199.5,346.5 L1198.4,344.1 L1197.0,342.0 L1195.3,340.2 L1193.4,338.9 L1191.6,338.1 L1189.9,337.9 L1188.5,338.4 L1187.3,339.4 L1186.6,341.0 L1186.4,343.0 L1186.6,345.2 L1187.3,347.6 L1188.5,349.9 L1189.9,352.0 L1191.6,353.8 L1193.4,355.1 L1195.3,355.9 L1197.0,356.1 L1198.4,355.6 L1199.5,354.6 L1200.2,353.0 L1200.5,351.1 Z" fill="#a5a29e" stroke="#242322" stroke-width="0.8" stroke-linejoin="round" />
<clipPath id="bh5"><path d="M1200.5,351.1 L1200.2,348.8 L1199.5,346.5 L1198.4,344.1 L1197.0,342.0 L1195.3,340.2 L1193.4,338.9 L1191.6,338.1 L1189.9,337.9 L1188.5,338.4 L1187.3,339.4 L1186.6,341.0 L1186.4,343.0 L1186.6,345.2 L1187.3,347.6 L1188.5,349.9 L1189.9,352.0 L1191.6,353.8 L1193.4,355.1 L1195.3,355.9 L1197.0,356.1 L1198.4,355.6 L1199.5,354.6 L1200.2,353.0 L1200.5,351.1 Z"/></clipPath>
<g clip-path="url(#bh5)">
<path d="M1202.3,349.2 L1202.2,347.6 L1201.7,345.9 L1200.9,344.2 L1199.8,342.7 L1198.6,341.4 L1197.3,340.5 L1196.0,339.9 L1194.8,339.8 L1193.8,340.1 L1193.0,340.9 L1192.5,342.0 L1192.3,343.4 L1192.5,345.0 L1193.0,346.7 L1193.8,348.3 L1194.8,349.8 L1196.0,351.1 L1197.3,352.0 L1198.6,352.6 L1199.8,352.7 L1200.9,352.4 L1201.7,351.7 L1202.2,350.6 L1202.3,349.2 Z" fill="#ebe9e6" stroke="#6c6966" stroke-width="0.5" stroke-linejoin="round" />
</g>
<path d="M1246.2,399.4 L1246.0,397.2 L1245.3,394.8 L1244.2,392.5 L1242.7,390.3 L1241.0,388.5 L1239.2,387.2 L1237.4,386.4 L1235.7,386.3 L1234.2,386.7 L1233.1,387.7 L1232.4,389.3 L1232.2,391.3 L1232.4,393.5 L1233.1,395.9 L1234.2,398.2 L1235.7,400.3 L1237.4,402.1 L1239.2,403.5 L1241.0,404.2 L1242.7,404.4 L1244.2,404.0 L1245.3,402.9 L1246.0,401.4 L1246.2,399.4 Z" fill="#a5a29e" stroke="#242322" stroke-width="0.8" stroke-linejoin="round" />
<clipPath id="bh6"><path d="M1246.2,399.4 L1246.0,397.2 L1245.3,394.8 L1244.2,392.5 L1242.7,390.3 L1241.0,388.5 L1239.2,387.2 L1237.4,386.4 L1235.7,386.3 L1234.2,386.7 L1233.1,387.7 L1232.4,389.3 L1232.2,391.3 L1232.4,393.5 L1233.1,395.9 L1234.2,398.2 L1235.7,400.3 L1237.4,402.1 L1239.2,403.5 L1241.0,404.2 L1242.7,404.4 L1244.2,404.0 L1245.3,402.9 L1246.0,401.4 L1246.2,399.4 Z"/></clipPath>
<g clip-path="url(#bh6)">
<path d="M1248.1,397.5 L1247.9,395.9 L1247.4,394.2 L1246.6,392.5 L1245.6,391.0 L1244.4,389.8 L1243.1,388.8 L1241.8,388.3 L1240.6,388.1 L1239.6,388.5 L1238.8,389.2 L1238.3,390.3 L1238.1,391.7 L1238.3,393.3 L1238.8,395.0 L1239.6,396.6 L1240.6,398.1 L1241.8,399.4 L1243.1,400.4 L1244.4,400.9 L1245.6,401.0 L1246.6,400.7 L1247.4,400.0 L1247.9,398.9 L1248.1,397.5 Z" fill="#ebe9e6" stroke="#6c6966" stroke-width="0.5" stroke-linejoin="round" />
</g>
<path d="M1292.0,403.9 L1291.8,401.7 L1291.1,399.3 L1289.9,397.0 L1288.5,394.9 L1286.8,393.1 L1285.0,391.7 L1283.1,391.0 L1281.4,390.8 L1280.0,391.2 L1278.9,392.3 L1278.2,393.8 L1277.9,395.8 L1278.2,398.0 L1278.9,400.4 L1280.0,402.7 L1281.4,404.9 L1283.1,406.7 L1285.0,408.0 L1286.8,408.8 L1288.5,408.9 L1289.9,408.5 L1291.1,407.5 L1291.8,405.9 L1292.0,403.9 Z" fill="#a5a29e" stroke="#242322" stroke-width="0.8" stroke-linejoin="round" />
<clipPath id="bh7"><path d="M1292.0,403.9 L1291.8,401.7 L1291.1,399.3 L1289.9,397.0 L1288.5,394.9 L1286.8,393.1 L1285.0,391.7 L1283.1,391.0 L1281.4,390.8 L1280.0,391.2 L1278.9,392.3 L1278.2,393.8 L1277.9,395.8 L1278.2,398.0 L1278.9,400.4 L1280.0,402.7 L1281.4,404.9 L1283.1,406.7 L1285.0,408.0 L1286.8,408.8 L1288.5,408.9 L1289.9,408.5 L1291.1,407.5 L1291.8,405.9 L1292.0,403.9 Z"/></clipPath>
<g clip-path="url(#bh7)">
<path d="M1293.9,402.0 L1293.7,400.4 L1293.2,398.7 L1292.4,397.1 L1291.4,395.6 L1290.1,394.3 L1288.9,393.3 L1287.6,392.8 L1286.4,392.7 L1285.3,393.0 L1284.5,393.7 L1284.0,394.8 L1283.8,396.2 L1284.0,397.8 L1284.5,399.5 L1285.3,401.2 L1286.4,402.7 L1287.6,404.0 L1288.9,404.9 L1290.1,405.4 L1291.4,405.6 L1292.4,405.2 L1293.2,404.5 L1293.7,403.4 L1293.9,402.0 Z" fill="#ebe9e6" stroke="#6c6966" stroke-width="0.5" stroke-linejoin="round" />
</g>
<path d="M1378.5,287.7 L1378.7,284.4 L1379.1,281.0 L1379.8,277.5 L1380.7,273.9 L1381.9,270.3 L1383.3,266.7 L1385.0,263.2 L1386.8,259.7 L1388.9,256.4 L1391.1,253.2 L1393.5,250.2 L1396.0,247.3 L1398.7,244.7 L1401.3,242.4 L1404.1,240.3 L1406.9,238.6 L1409.7,237.1 L1412.4,236.0 L1415.1,235.2 L1417.7,234.8 L1420.2,234.7 L1422.6,235.0 L1424.9,235.6 L1426.9,236.6 L1428.8,237.9 L1430.5,239.5 L1431.9,241.4 L1433.1,243.7 L1434.0,246.2 L1434.7,248.9 L1435.9,256.1 L1436.2,258.6 L1436.3,261.1 L1436.2,263.9 L1435.9,266.7 L1435.3,269.6 L1434.5,272.6 L1433.6,275.6 L1432.4,278.5 L1431.0,281.5 L1429.5,284.4 L1427.7,287.1 L1425.9,289.8 L1423.9,292.3 L1421.8,294.6 L1419.6,296.8 L1417.4,298.8 L1415.1,300.5 L1412.8,301.9 L1410.5,303.1 L1408.2,304.1 L1401.3,306.6 L1398.7,307.4 L1396.0,307.8 L1393.5,307.9 L1391.1,307.6 L1388.9,307.0 L1386.8,306.1 L1385.0,304.8 L1383.3,303.1 L1381.9,301.2 L1380.7,299.0 L1379.8,296.5 L1379.1,293.8 L1378.7,290.8 Z" fill="url(#gBossRf)" stroke="#242322" stroke-width="0.9" stroke-linejoin="round" />
<path d="M1389.3,288.3 L1389.4,285.6 L1389.7,282.8 L1390.3,279.9 L1391.1,276.9 L1392.0,273.9 L1393.2,270.9 L1394.6,268.0 L1396.2,265.1 L1397.9,262.4 L1399.7,259.7 L1401.7,257.2 L1403.8,254.8 L1406.0,252.7 L1408.2,250.7 L1410.5,249.0 L1412.8,247.6 L1415.1,246.4 L1417.4,245.4 L1419.6,244.8 L1421.8,244.4 L1423.9,244.4 L1425.9,244.6 L1427.7,245.1 L1429.5,245.9 L1447.0,256.1 L1448.6,257.2 L1450.0,258.5 L1451.2,260.1 L1452.2,261.9 L1452.9,264.0 L1453.5,266.3 L1453.8,268.7 L1453.9,271.3 L1453.8,274.1 L1453.5,276.9 L1452.9,279.8 L1452.2,282.8 L1451.2,285.7 L1450.0,288.7 L1448.6,291.6 L1447.0,294.5 L1445.3,297.3 L1443.5,300.0 L1441.5,302.5 L1439.4,304.8 L1437.2,307.0 L1435.0,308.9 L1432.7,310.6 L1430.4,312.1 L1428.1,313.3 L1425.8,314.2 L1423.6,314.9 L1421.4,315.2 L1419.3,315.3 L1417.3,315.1 L1415.5,314.5 L1413.8,313.7 L1396.2,303.6 L1394.6,302.5 L1393.2,301.1 L1392.0,299.5 L1391.1,297.7 L1390.3,295.6 L1389.7,293.4 L1389.4,290.9 Z" fill="url(#gBossR)" stroke="#242322" stroke-width="0.9" stroke-linejoin="round" />
<path d="M1453.9,271.3 L1453.8,268.7 L1453.5,266.3 L1452.9,264.0 L1452.2,262.0 L1451.2,260.1 L1450.0,258.5 L1448.6,257.2 L1447.1,256.1 L1445.3,255.3 L1443.5,254.8 L1441.5,254.5 L1439.4,254.6 L1437.2,255.0 L1435.0,255.6 L1432.7,256.5 L1430.4,257.7 L1428.1,259.2 L1425.8,260.9 L1423.6,262.8 L1421.4,265.0 L1419.3,267.3 L1417.3,269.9 L1415.5,272.5 L1413.8,275.3 L1412.2,278.2 L1410.8,281.1 L1409.7,284.1 L1408.7,287.1 L1407.9,290.0 L1407.3,292.9 L1407.0,295.8 L1406.9,298.5 L1407.0,301.1 L1407.3,303.5 L1407.9,305.8 L1408.7,307.9 L1409.7,309.7 L1410.8,311.3 L1412.2,312.7 L1413.8,313.7 L1415.5,314.5 L1417.3,315.1 L1419.3,315.3 L1421.4,315.2 L1423.6,314.9 L1425.8,314.2 L1428.1,313.3 L1430.4,312.1 L1432.7,310.6 L1435.0,308.9 L1437.2,307.0 L1439.4,304.8 L1441.5,302.5 L1443.5,300.0 L1445.3,297.3 L1447.1,294.5 L1448.6,291.6 L1450.0,288.7 L1451.2,285.7 L1452.2,282.8 L1452.9,279.8 L1453.5,276.9 L1453.8,274.0 L1453.9,271.3 Z" fill="#aaa7a3" stroke="#242322" stroke-width="0.9" stroke-linejoin="round" />
<path d="M1443.9,277.1 L1443.8,275.1 L1443.5,273.3 L1442.9,271.7 L1442.1,270.3 L1441.1,269.2 L1440.0,268.3 L1438.6,267.8 L1437.2,267.5 L1435.6,267.5 L1433.9,267.8 L1432.2,268.4 L1430.4,269.3 L1428.6,270.4 L1426.9,271.8 L1425.2,273.5 L1423.6,275.3 L1422.2,277.3 L1420.8,279.4 L1419.7,281.6 L1418.7,283.9 L1417.9,286.1 L1417.3,288.4 L1417.0,290.6 L1416.9,292.7 L1417.0,294.7 L1417.3,296.5 L1417.9,298.1 L1418.7,299.5 L1419.7,300.6 L1420.8,301.5 L1422.2,302.1 L1423.6,302.3 L1425.2,302.3 L1426.9,302.0 L1428.6,301.4 L1430.4,300.5 L1432.2,299.4 L1433.9,298.0 L1435.6,296.4 L1437.2,294.5 L1438.6,292.5 L1440.0,290.4 L1441.1,288.2 L1442.1,286.0 L1442.9,283.7 L1443.5,281.4 L1443.8,279.2 L1443.9,277.1 Z" fill="url(#gHoleR)" stroke="#242322" stroke-width="0.9" stroke-linejoin="round" />
</g>
<filter id="nf" filterUnits="userSpaceOnUse" x="0" y="0" width="1600" height="1065" color-interpolation-filters="sRGB"><feOffset dx="0" dy="0"/></filter>
<g filter="url(#nf)">
<text x="167.50" y="1042.00" font-family="Liberation Sans, sans-serif" font-size="16.5" fill="#1c1c1c" text-anchor="start" font-weight="normal" textLength="190.50" lengthAdjust="spacingAndGlyphs" >WWW.DESIGNHOK.COM</text>
<text x="973.75" y="1041.30" font-family="Liberation Sans, sans-serif" font-size="8.2" fill="#1c1c1c" text-anchor="start" font-weight="bold" textLength="124.00" lengthAdjust="spacingAndGlyphs" >PROPRIETARY AND CONFIDENTIAL</text>
<text x="1119.70" y="1035.00" font-family="Liberation Sans, sans-serif" font-size="8.2" fill="#444" text-anchor="start" font-weight="normal" textLength="416.50" lengthAdjust="spacingAndGlyphs" >THE INFORMATION CONTAINED IN THIS RAWING IS THE SOLE PROPERTY OF &lt;DESIGN HOK&gt;.  ANY REPRODUCTION</text>
<text x="1119.70" y="1045.00" font-family="Liberation Sans, sans-serif" font-size="8.2" fill="#444" text-anchor="start" font-weight="normal" textLength="344.30" lengthAdjust="spacingAndGlyphs" >IN PART OR AS A WHOLE WITHOUT THE WRITTEN PERMISSION OF&lt;DESIGN HOK&gt; IS PROHIBITED.</text>
<text x="817.50" y="838.30" font-family="Liberation Sans, sans-serif" font-size="8.2" fill="#444" text-anchor="middle" font-weight="normal" >0.5 UPTO 3.0</text>
<text x="909.00" y="838.30" font-family="Liberation Sans, sans-serif" font-size="8.2" fill="#444" text-anchor="middle" font-weight="normal" >±.1</text>
<text x="817.50" y="859.50" font-family="Liberation Sans, sans-serif" font-size="8.2" fill="#444" text-anchor="middle" font-weight="normal" >3 UPTO 6</text>
<text x="909.00" y="859.50" font-family="Liberation Sans, sans-serif" font-size="8.2" fill="#444" text-anchor="middle" font-weight="normal" >±.1</text>
<text x="817.50" y="882.50" font-family="Liberation Sans, sans-serif" font-size="8.2" fill="#444" text-anchor="middle" font-weight="normal" >6 UPTO 30</text>
<text x="909.00" y="882.50" font-family="Liberation Sans, sans-serif" font-size="8.2" fill="#444" text-anchor="middle" font-weight="normal" >±.2</text>
<text x="817.50" y="905.00" font-family="Liberation Sans, sans-serif" font-size="8.2" fill="#444" text-anchor="middle" font-weight="normal" >30 UPTO 120</text>
<text x="909.00" y="905.00" font-family="Liberation Sans, sans-serif" font-size="8.2" fill="#444" text-anchor="middle" font-weight="normal" >±.3</text>
<text x="817.50" y="924.50" font-family="Liberation Sans, sans-serif" font-size="8.2" fill="#444" text-anchor="middle" font-weight="normal" >120 UPTO 400</text>
<text x="909.00" y="924.50" font-family="Liberation Sans, sans-serif" font-size="8.2" fill="#444" text-anchor="middle" font-weight="normal" >±.5</text>
<text x="817.00" y="949.00" font-family="Liberation Sans, sans-serif" font-size="8.2" fill="#444" text-anchor="middle" font-weight="normal" >400 UPTO 1000</text>
<text x="909.00" y="949.00" font-family="Liberation Sans, sans-serif" font-size="8.2" fill="#444" text-anchor="middle" font-weight="normal" >±.8</text>
<text x="817.00" y="974.50" font-family="Liberation Sans, sans-serif" font-size="8.2" fill="#444" text-anchor="middle" font-weight="normal" >1000 UPTO 2000</text>
<text x="912.00" y="974.50" font-family="Liberation Sans, sans-serif" font-size="8.2" fill="#444" text-anchor="middle" font-weight="normal" >±1.2</text>
<text x="817.00" y="994.00" font-family="Liberation Sans, sans-serif" font-size="8.2" fill="#444" text-anchor="middle" font-weight="normal" >2000 UPTO 4000</text>
<text x="912.00" y="994.00" font-family="Liberation Sans, sans-serif" font-size="8.2" fill="#444" text-anchor="middle" font-weight="normal" >±2.0</text>
<text x="866.50" y="1013.50" font-family="Liberation Sans, sans-serif" font-size="8.2" fill="#444" text-anchor="middle" font-weight="normal" >ISO 2768 -mk</text>
<text x="651.30" y="961.00" font-family="Liberation Sans, sans-serif" font-size="14" fill="#1c1c1c" text-anchor="start" font-weight="normal" textLength="92.00" lengthAdjust="spacingAndGlyphs" >3rd ANGLE OF</text>
<text x="651.30" y="974.70" font-family="Liberation Sans, sans-serif" font-size="14" fill="#1c1c1c" text-anchor="start" font-weight="normal" textLength="83.00" lengthAdjust="spacingAndGlyphs" >PROJECTION</text>
<text x="970.00" y="835.60" font-family="Liberation Sans, sans-serif" font-size="8.2" fill="#444" text-anchor="start" font-weight="normal" textLength="128.70" lengthAdjust="spacingAndGlyphs" >UNLESS OTHERWISE SPECIFIED:</text>
<text x="969.70" y="857.50" font-family="Liberation Sans, sans-serif" font-size="8.2" fill="#444" text-anchor="start" font-weight="normal" textLength="97.00" lengthAdjust="spacingAndGlyphs" >DIMENSIONS ARE IN MM</text>
<text x="969.70" y="868.10" font-family="Liberation Sans, sans-serif" font-size="8.2" fill="#444" text-anchor="start" font-weight="normal" textLength="122.00" lengthAdjust="spacingAndGlyphs" >UNLESS OTHERWISE SPECIFIED ,</text>
<text x="969.70" y="878.40" font-family="Liberation Sans, sans-serif" font-size="8.2" fill="#444" text-anchor="start" font-weight="normal" textLength="123.50" lengthAdjust="spacingAndGlyphs" >BREAK THE SHARP EDGES UPTO</text>
<text x="969.70" y="888.80" font-family="Liberation Sans, sans-serif" font-size="8.2" fill="#444" text-anchor="start" font-weight="normal" textLength="39.00" lengthAdjust="spacingAndGlyphs" >0.25 X 45°</text>
<text x="969.00" y="931.30" font-family="Liberation Sans, sans-serif" font-size="8.2" fill="#444" text-anchor="start" font-weight="normal" textLength="83.00" lengthAdjust="spacingAndGlyphs" >INTERPRET GEOMETRIC</text>
<text x="969.00" y="941.30" font-family="Liberation Sans, sans-serif" font-size="8.2" fill="#444" text-anchor="start" font-weight="normal" textLength="94.00" lengthAdjust="spacingAndGlyphs" >TOLERANCING PER: Y14.5</text>
<text x="969.00" y="956.00" font-family="Liberation Sans, sans-serif" font-size="8.2" fill="#444" text-anchor="start" font-weight="normal" textLength="35.00" lengthAdjust="spacingAndGlyphs" >MATERIAL</text>
<text x="969.00" y="982.50" font-family="Liberation Sans, sans-serif" font-size="8.2" fill="#444" text-anchor="start" font-weight="normal" textLength="22.00" lengthAdjust="spacingAndGlyphs" >FINISH</text>
<text x="970.00" y="1009.00" font-family="Liberation Sans, sans-serif" font-size="8.2" fill="#444" text-anchor="start" font-weight="normal" textLength="31.00" lengthAdjust="spacingAndGlyphs" >WEIGHT:</text>
<text x="1190.00" y="837.50" font-family="Liberation Sans, sans-serif" font-size="8.2" fill="#444" text-anchor="start" font-weight="normal" textLength="24.40" lengthAdjust="spacingAndGlyphs" >NAME</text>
<text x="1239.00" y="837.50" font-family="Liberation Sans, sans-serif" font-size="8.2" fill="#444" text-anchor="start" font-weight="normal" textLength="20.70" lengthAdjust="spacingAndGlyphs" >DATE</text>
<text x="1108.75" y="856.00" font-family="Liberation Sans, sans-serif" font-size="8.2" fill="#444" text-anchor="start" font-weight="normal" textLength="31.50" lengthAdjust="spacingAndGlyphs" >DRAWN</text>
<text x="1108.75" y="875.00" font-family="Liberation Sans, sans-serif" font-size="8.2" fill="#444" text-anchor="start" font-weight="normal" textLength="40.00" lengthAdjust="spacingAndGlyphs" >CHECKED</text>
<text x="1108.75" y="893.75" font-family="Liberation Sans, sans-serif" font-size="8.2" fill="#444" text-anchor="start" font-weight="normal" textLength="43.50" lengthAdjust="spacingAndGlyphs" >ENG APPR.</text>
<text x="1108.75" y="912.50" font-family="Liberation Sans, sans-serif" font-size="8.2" fill="#444" text-anchor="start" font-weight="normal" textLength="45.50" lengthAdjust="spacingAndGlyphs" >MFG APPR.</text>
<text x="1108.75" y="931.00" font-family="Liberation Sans, sans-serif" font-size="8.2" fill="#444" text-anchor="start" font-weight="normal" textLength="17.50" lengthAdjust="spacingAndGlyphs" >Q.A.</text>
<text x="1277.50" y="839.70" font-family="Liberation Sans, sans-serif" font-size="15" fill="#444" text-anchor="start" font-weight="normal" textLength="90.50" lengthAdjust="spacingAndGlyphs" >ASSEMBLY NO:</text>
<text x="1277.50" y="892.80" font-family="Liberation Sans, sans-serif" font-size="15" fill="#444" text-anchor="start" font-weight="normal" textLength="29.50" lengthAdjust="spacingAndGlyphs" >TITLE:</text>
<text x="1346.90" y="921.60" font-family="Liberation Sans, sans-serif" font-size="17" fill="#111" text-anchor="start" font-weight="normal" textLength="112.50" lengthAdjust="spacingAndGlyphs" >Gear Box Body</text>
<text x="1281.25" y="960.60" font-family="Liberation Sans, sans-serif" font-size="15" fill="#444" text-anchor="start" font-weight="normal" textLength="22.75" lengthAdjust="spacingAndGlyphs" >SIZE</text>
<text x="1316.00" y="960.60" font-family="Liberation Sans, sans-serif" font-size="15" fill="#444" text-anchor="start" font-weight="normal" textLength="68.40" lengthAdjust="spacingAndGlyphs" >DWG.  NO.</text>
<text x="1508.75" y="960.60" font-family="Liberation Sans, sans-serif" font-size="15" fill="#444" text-anchor="start" font-weight="normal" textLength="24.00" lengthAdjust="spacingAndGlyphs" >REV</text>
<text x="1394.70" y="983.50" font-family="Liberation Sans, sans-serif" font-size="15" fill="#111" text-anchor="start" font-weight="bold" textLength="16.50" lengthAdjust="spacingAndGlyphs" >---</text>
<text x="1320.30" y="1013.75" font-family="Liberation Sans, sans-serif" font-size="15" fill="#444" text-anchor="start" font-weight="normal" textLength="74.40" lengthAdjust="spacingAndGlyphs" >SCALE: 1:1.5</text>
<text x="1440.00" y="1013.75" font-family="Liberation Sans, sans-serif" font-size="15" fill="#444" text-anchor="start" font-weight="normal" textLength="76.00" lengthAdjust="spacingAndGlyphs" >SHEET 1 OF 1</text>
<text x="1176.80" y="985.80" font-family="Liberation Sans, sans-serif" font-size="2.6" fill="#555" text-anchor="start" font-weight="bold" textLength="84.00" lengthAdjust="spacingAndGlyphs" >THE BEST DESIGN PARTNER</text>
<text x="442.00" y="83.80" font-family="Liberation Sans, sans-serif" font-size="16.5" fill="#1c1c1c" text-anchor="start" font-weight="normal" textLength="48.80" lengthAdjust="spacingAndGlyphs" >101.60</text>
<text x="445.00" y="128.80" font-family="Liberation Sans, sans-serif" font-size="16.5" fill="#1c1c1c" text-anchor="start" font-weight="normal" textLength="40.80" lengthAdjust="spacingAndGlyphs" >88.90</text>
<text x="275.00" y="157.00" font-family="Liberation Sans, sans-serif" font-size="16.5" fill="#1c1c1c" text-anchor="start" font-weight="normal" textLength="31.20" lengthAdjust="spacingAndGlyphs" >9.53</text>
<text x="80.00" y="287.50" font-family="Liberation Sans, sans-serif" font-size="16.5" fill="#1c1c1c" text-anchor="start" font-weight="normal" textLength="41.00" lengthAdjust="spacingAndGlyphs" >79.38</text>
<text x="131.50" y="287.50" font-family="Liberation Sans, sans-serif" font-size="16.5" fill="#1c1c1c" text-anchor="start" font-weight="normal" textLength="40.00" lengthAdjust="spacingAndGlyphs" >66.68</text>
<text x="182.50" y="287.50" font-family="Liberation Sans, sans-serif" font-size="16.5" fill="#1c1c1c" text-anchor="start" font-weight="normal" textLength="41.00" lengthAdjust="spacingAndGlyphs" >53.98</text>
<text x="149.50" y="168.00" font-family="Liberation Sans, sans-serif" font-size="16.5" fill="#1c1c1c" text-anchor="start" font-weight="normal" textLength="71.80" lengthAdjust="spacingAndGlyphs" >typ 12.70</text>
<text x="218.50" y="328.50" font-family="Liberation Sans, sans-serif" font-size="16.5" fill="#1c1c1c" text-anchor="start" font-weight="normal" textLength="53.00" lengthAdjust="spacingAndGlyphs" >4x 9.53</text>
<text x="185.00" y="417.50" font-family="Liberation Sans, sans-serif" font-size="16.5" fill="#1c1c1c" text-anchor="start" font-weight="normal" textLength="62.50" lengthAdjust="spacingAndGlyphs" >typ 9.33</text>
<text x="712.00" y="286.00" font-family="Liberation Sans, sans-serif" font-size="16.5" fill="#1c1c1c" text-anchor="start" font-weight="normal" textLength="40.00" lengthAdjust="spacingAndGlyphs" >22.23</text>
<text x="788.50" y="286.00" font-family="Liberation Sans, sans-serif" font-size="16.5" fill="#1c1c1c" text-anchor="start" font-weight="normal" textLength="42.50" lengthAdjust="spacingAndGlyphs" >25.40</text>
<text x="723.80" y="107.50" font-family="Liberation Sans, sans-serif" font-size="16.5" fill="#1c1c1c" text-anchor="start" font-weight="normal" textLength="18.00" lengthAdjust="spacingAndGlyphs" >4X</text>
<text x="771.50" y="107.50" font-family="Liberation Sans, sans-serif" font-size="16.5" fill="#1c1c1c" text-anchor="start" font-weight="normal" textLength="30.00" lengthAdjust="spacingAndGlyphs" >2.71</text>
<text x="831.50" y="107.50" font-family="Liberation Sans, sans-serif" font-size="16.5" fill="#1c1c1c" text-anchor="start" font-weight="normal" textLength="39.50" lengthAdjust="spacingAndGlyphs" >11.00</text>
<text x="728.30" y="128.00" font-family="Liberation Sans, sans-serif" font-size="16.5" fill="#1c1c1c" text-anchor="start" font-weight="normal" textLength="73.00" lengthAdjust="spacingAndGlyphs" >6-32 UNC</text>
<text x="835.00" y="128.00" font-family="Liberation Sans, sans-serif" font-size="16.5" fill="#1c1c1c" text-anchor="start" font-weight="normal" textLength="31.30" lengthAdjust="spacingAndGlyphs" >7.00</text>
<text x="743.00" y="148.00" font-family="Liberation Sans, sans-serif" font-size="16.5" fill="#1c1c1c" text-anchor="start" font-weight="normal" textLength="166.50" lengthAdjust="spacingAndGlyphs" >4.78 X 90°, NEAR SIDE</text>
<text x="727.50" y="177.50" font-family="Liberation Sans, sans-serif" font-size="16.5" fill="#1c1c1c" text-anchor="start" font-weight="normal" textLength="71.30" lengthAdjust="spacingAndGlyphs" >typ R6.35</text>
<text x="709.50" y="372.50" font-family="Liberation Sans, sans-serif" font-size="16.5" fill="#1c1c1c" text-anchor="start" font-weight="normal" textLength="71.00" lengthAdjust="spacingAndGlyphs" >typ R3.38</text>
<text x="468.00" y="417.00" font-family="Liberation Sans, sans-serif" font-size="16.5" fill="#1c1c1c" text-anchor="start" font-weight="normal" textLength="32.00" lengthAdjust="spacingAndGlyphs" >0.01</text>
<text x="511.00" y="417.00" font-family="Liberation Sans, sans-serif" font-size="16.5" fill="#1c1c1c" text-anchor="start" font-weight="normal" textLength="31.00" lengthAdjust="spacingAndGlyphs" >C-D</text>
<text x="665.50" y="409.00" font-family="Liberation Sans, sans-serif" font-size="16.5" fill="#1c1c1c" text-anchor="start" font-weight="normal" textLength="32.00" lengthAdjust="spacingAndGlyphs" >0.01</text>
<text x="410.50" y="511.00" font-family="Liberation Sans, sans-serif" font-size="16.5" fill="#1c1c1c" text-anchor="start" font-weight="normal" textLength="11.00" lengthAdjust="spacingAndGlyphs" >A</text>
<text x="410.00" y="821.00" font-family="Liberation Sans, sans-serif" font-size="16.5" fill="#1c1c1c" text-anchor="start" font-weight="normal" textLength="11.00" lengthAdjust="spacingAndGlyphs" >A</text>
<text x="438.30" y="610.80" font-family="Liberation Sans, sans-serif" font-size="16.5" fill="#1c1c1c" text-anchor="start" font-weight="normal" textLength="24.30" lengthAdjust="spacingAndGlyphs" >45°</text>
<text x="590.00" y="496.30" font-family="Liberation Sans, sans-serif" font-size="16.5" fill="#1c1c1c" text-anchor="start" font-weight="normal" textLength="41.50" lengthAdjust="spacingAndGlyphs" >69.85</text>
<text x="656.30" y="525.50" font-family="Liberation Sans, sans-serif" font-size="16.5" fill="#1c1c1c" text-anchor="start" font-weight="normal" textLength="66.20" lengthAdjust="spacingAndGlyphs" >typ12.70</text>
<text x="664.50" y="668.75" font-family="Liberation Sans, sans-serif" font-size="16.5" fill="#1c1c1c" text-anchor="start" font-weight="normal" textLength="41.00" lengthAdjust="spacingAndGlyphs" >57.15</text>
<text x="135.00" y="687.50" font-family="Liberation Sans, sans-serif" font-size="16.5" fill="#1c1c1c" text-anchor="start" font-weight="normal" textLength="41.30" lengthAdjust="spacingAndGlyphs" >76.20</text>
<text x="178.00" y="835.00" font-family="Liberation Sans, sans-serif" font-size="16.5" fill="#1c1c1c" text-anchor="start" font-weight="normal" textLength="31.00" lengthAdjust="spacingAndGlyphs" >6.35</text>
<text x="293.50" y="652.00" font-family="Liberation Sans, sans-serif" font-size="16.5" fill="#1c1c1c" text-anchor="start" font-weight="normal" textLength="13.50" lengthAdjust="spacingAndGlyphs" >C</text>
<text x="248.00" y="699.00" font-family="Liberation Sans, sans-serif" font-size="16.5" fill="#1c1c1c" text-anchor="start" font-weight="normal" textLength="31.50" lengthAdjust="spacingAndGlyphs" >0.01</text>
<text x="291.30" y="699.00" font-family="Liberation Sans, sans-serif" font-size="16.5" fill="#1c1c1c" text-anchor="start" font-weight="normal" textLength="13.50" lengthAdjust="spacingAndGlyphs" >C</text>
<text x="244.00" y="733.00" font-family="Liberation Sans, sans-serif" font-size="16.5" fill="#1c1c1c" text-anchor="start" font-weight="normal" textLength="31.50" lengthAdjust="spacingAndGlyphs" >0.01</text>
<text x="302.50" y="509.50" font-family="Liberation Sans, sans-serif" font-size="16.5" fill="#1c1c1c" text-anchor="start" font-weight="normal" textLength="31.50" lengthAdjust="spacingAndGlyphs" >0.01</text>
<text x="122.00" y="515.50" font-family="Liberation Sans, sans-serif" font-size="16.5" fill="#1c1c1c" text-anchor="start" font-weight="normal" textLength="25.50" lengthAdjust="spacingAndGlyphs" >16X</text>
<text x="177.50" y="515.50" font-family="Liberation Sans, sans-serif" font-size="16.5" fill="#1c1c1c" text-anchor="start" font-weight="normal" textLength="75.00" lengthAdjust="spacingAndGlyphs" >5.41 THRU</text>
<text x="121.50" y="535.50" font-family="Liberation Sans, sans-serif" font-size="16.5" fill="#1c1c1c" text-anchor="start" font-weight="normal" textLength="131.00" lengthAdjust="spacingAndGlyphs" >1/4-28 UNF  THRU</text>
<text x="132.00" y="555.50" font-family="Liberation Sans, sans-serif" font-size="16.5" fill="#1c1c1c" text-anchor="start" font-weight="normal" textLength="166.80" lengthAdjust="spacingAndGlyphs" >7.62 X 90°, NEAR SIDE</text>
<text x="955.75" y="450.50" font-family="Liberation Sans, sans-serif" font-size="16.5" fill="#1c1c1c" text-anchor="start" font-weight="normal" textLength="61.70" lengthAdjust="spacingAndGlyphs" >2x 26.99</text>
<text x="1172.50" y="477.50" font-family="Liberation Sans, sans-serif" font-size="16.5" fill="#1c1c1c" text-anchor="start" font-weight="normal" textLength="16.30" lengthAdjust="spacingAndGlyphs" >2x</text>
<text x="1213.75" y="477.50" font-family="Liberation Sans, sans-serif" font-size="16.5" fill="#1c1c1c" text-anchor="start" font-weight="normal" textLength="40.00" lengthAdjust="spacingAndGlyphs" >14.60</text>
<text x="1195.00" y="500.00" font-family="Liberation Sans, sans-serif" font-size="16.5" fill="#1c1c1c" text-anchor="start" font-weight="normal" textLength="29.50" lengthAdjust="spacingAndGlyphs" >0.01</text>
<text x="987.00" y="514.00" font-family="Liberation Sans, sans-serif" font-size="16.5" fill="#1c1c1c" text-anchor="start" font-weight="normal" textLength="10.50" lengthAdjust="spacingAndGlyphs" >B</text>
<text x="950.50" y="554.00" font-family="Liberation Sans, sans-serif" font-size="16.5" fill="#1c1c1c" text-anchor="start" font-weight="normal" textLength="12.00" lengthAdjust="spacingAndGlyphs" >A</text>
<text x="876.25" y="628.75" font-family="Liberation Sans, sans-serif" font-size="16.5" fill="#1c1c1c" text-anchor="start" font-weight="normal" textLength="30.00" lengthAdjust="spacingAndGlyphs" >0.01</text>
<text x="919.50" y="628.75" font-family="Liberation Sans, sans-serif" font-size="16.5" fill="#1c1c1c" text-anchor="start" font-weight="normal" textLength="25.50" lengthAdjust="spacingAndGlyphs" >A-B</text>
<text x="890.40" y="736.40" font-family="Liberation Sans, sans-serif" font-size="16.5" fill="#1c1c1c" text-anchor="start" font-weight="normal" textLength="41.00" lengthAdjust="spacingAndGlyphs" >47.62</text>
<text x="1233.00" y="693.60" font-family="Liberation Sans, sans-serif" font-size="16.5" fill="#1c1c1c" text-anchor="start" font-weight="normal" textLength="62.40" lengthAdjust="spacingAndGlyphs" >2x 69.85</text>
<text x="1315.60" y="693.60" font-family="Liberation Sans, sans-serif" font-size="16.5" fill="#1c1c1c" text-anchor="start" font-weight="normal" textLength="40.40" lengthAdjust="spacingAndGlyphs" >95.25</text>
<text x="1056.80" y="814.00" font-family="Liberation Sans, sans-serif" font-size="16.5" fill="#1c1c1c" text-anchor="start" font-weight="normal" textLength="102.60" lengthAdjust="spacingAndGlyphs" >SECTION A-A</text>
</g>
</svg>
</body></html>
